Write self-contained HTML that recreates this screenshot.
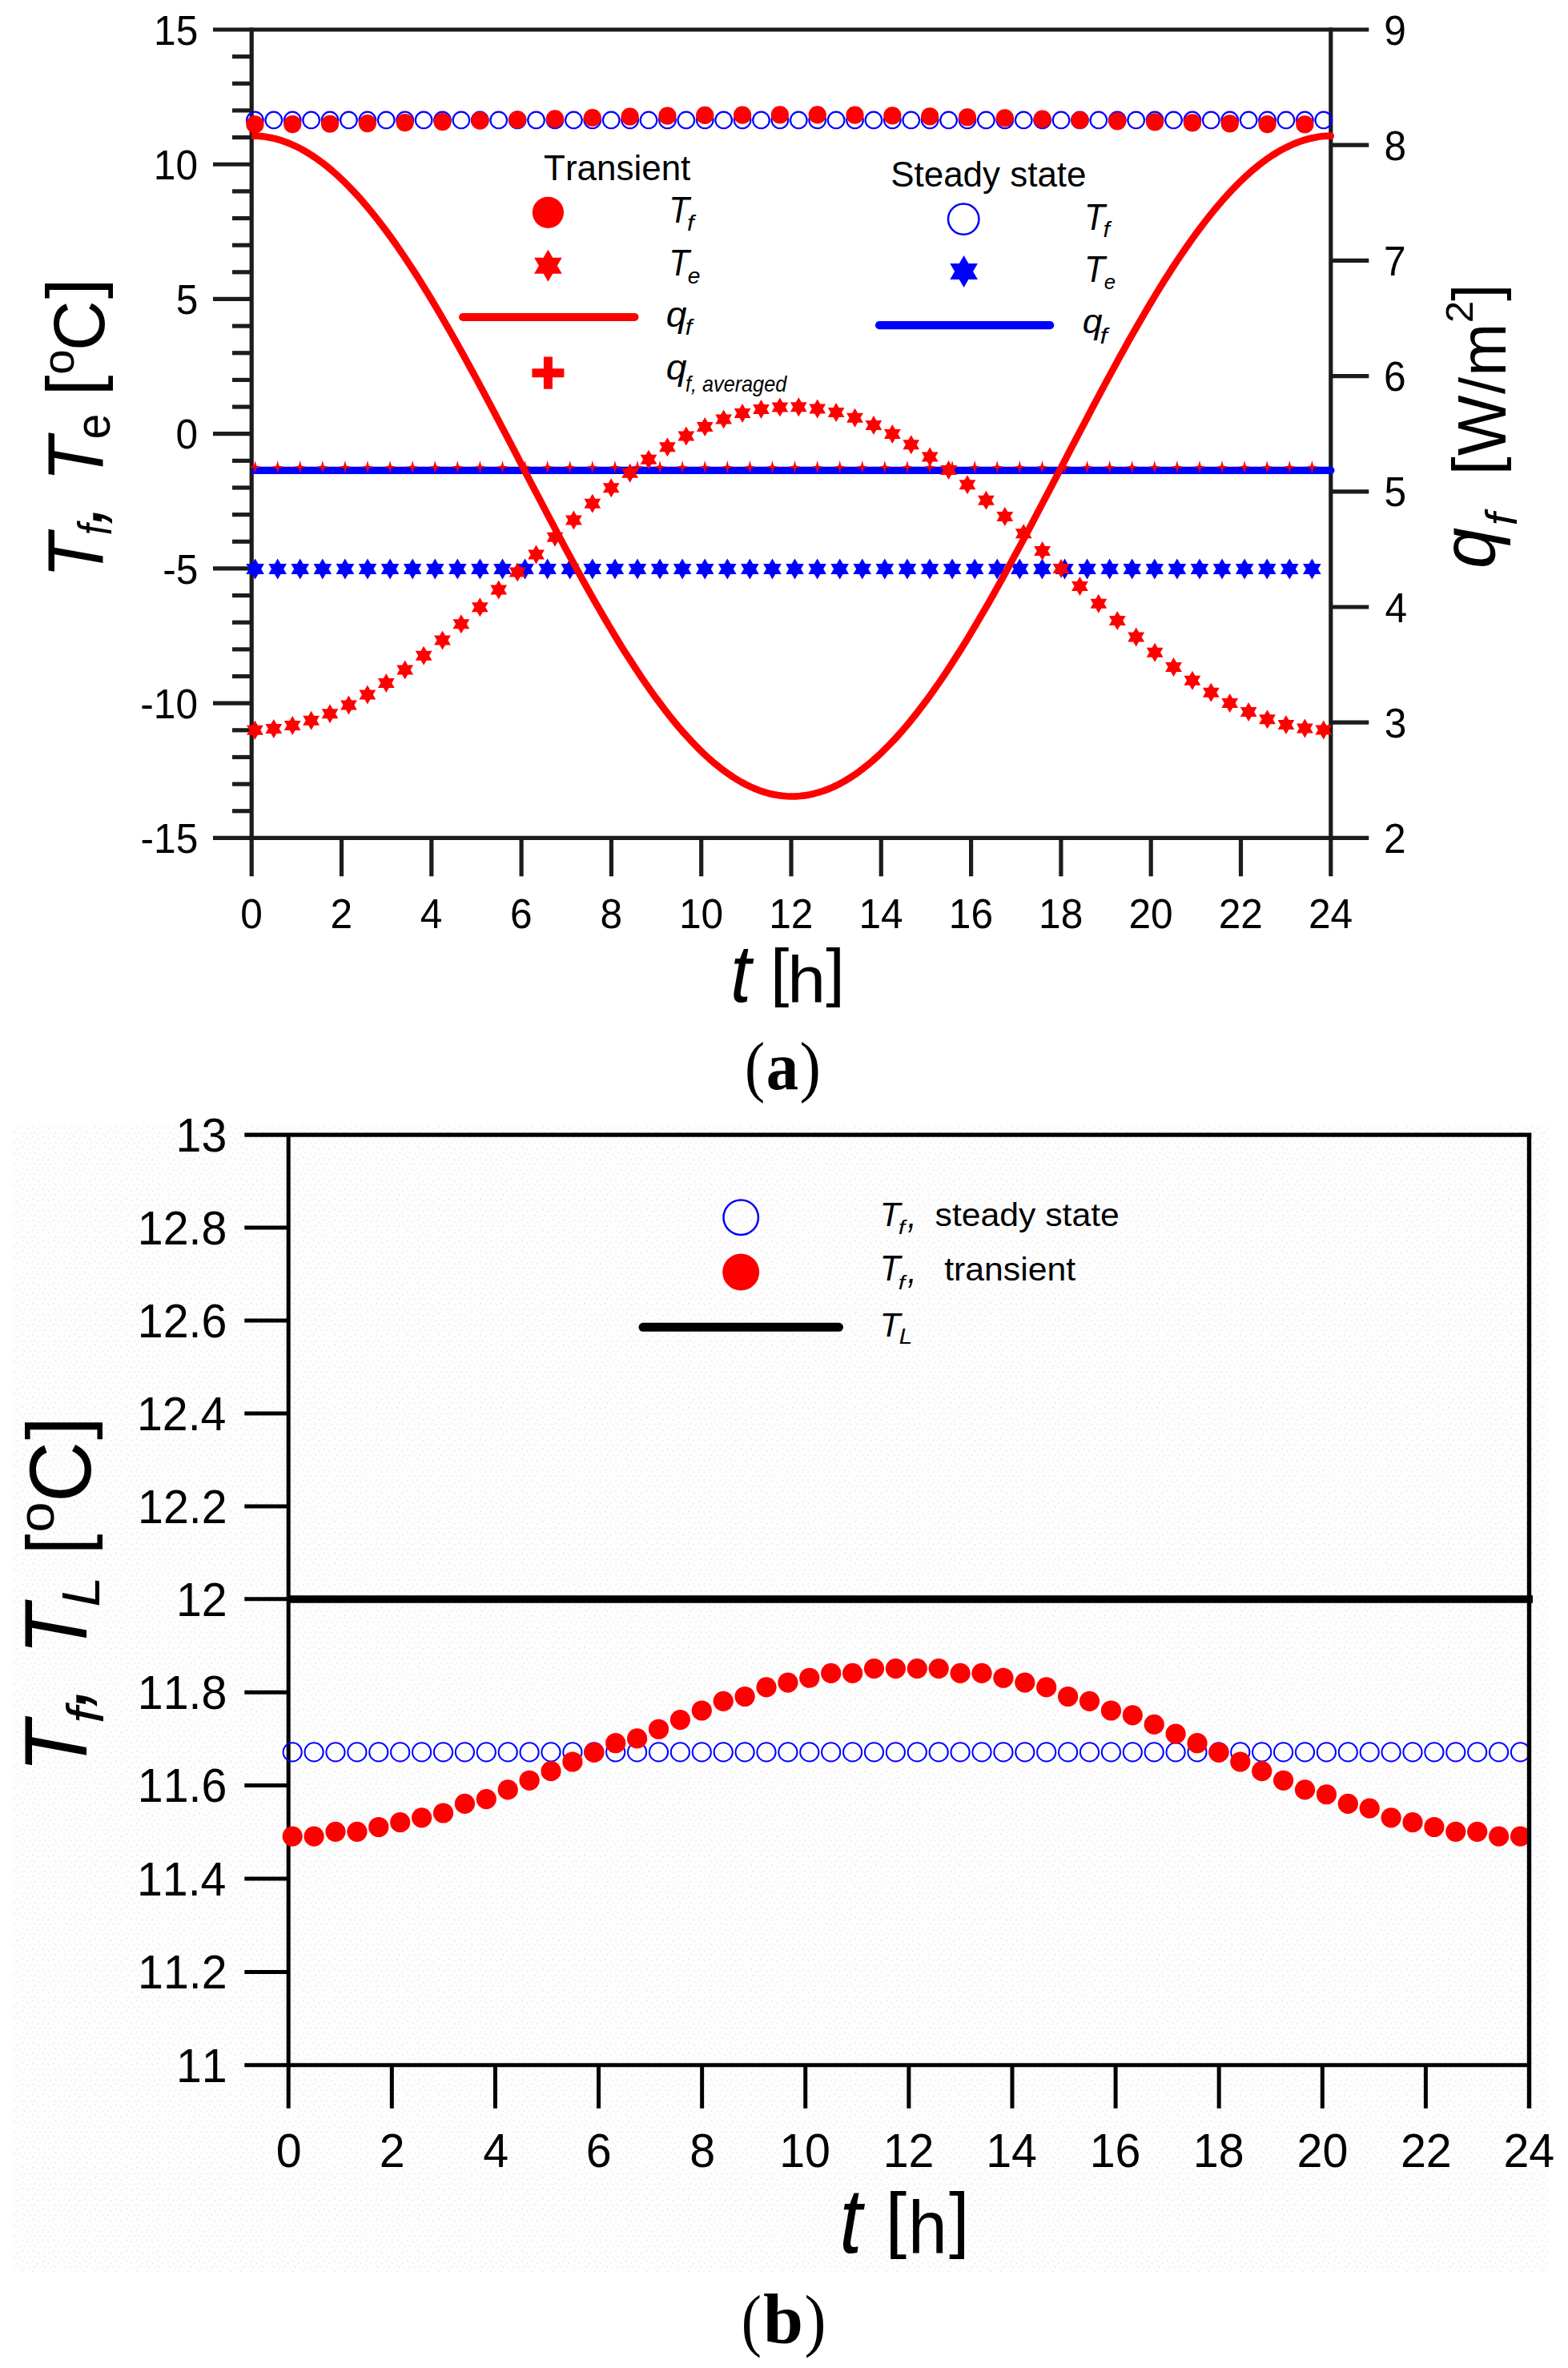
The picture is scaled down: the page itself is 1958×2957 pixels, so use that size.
<!DOCTYPE html>
<html lang="en"><head><meta charset="utf-8"><title>Figure</title>
<style>html,body{margin:0;padding:0;background:#fff}svg{display:block}text{fill:#000;font-kerning:none}</style></head>
<body>
<svg width="1958" height="2957" viewBox="0 0 1958 2957">
<rect width="1958" height="2957" fill="#fff"/>
<g id="chart-a">
<line x1="266.00" y1="37.00" x2="1709.30" y2="37.00" stroke="#1c1c1c" stroke-width="5.2" stroke-linecap="butt"/>
<line x1="266.00" y1="1046.40" x2="1709.30" y2="1046.40" stroke="#1c1c1c" stroke-width="5.2" stroke-linecap="butt"/>
<line x1="314.20" y1="34.40" x2="314.20" y2="1094.30" stroke="#1c1c1c" stroke-width="5.2" stroke-linecap="butt"/>
<line x1="1661.80" y1="34.40" x2="1661.80" y2="1094.30" stroke="#1c1c1c" stroke-width="5.2" stroke-linecap="butt"/>
<line x1="290.00" y1="1012.75" x2="314.20" y2="1012.75" stroke="#1c1c1c" stroke-width="5.2" stroke-linecap="butt"/>
<line x1="290.00" y1="979.11" x2="314.20" y2="979.11" stroke="#1c1c1c" stroke-width="5.2" stroke-linecap="butt"/>
<line x1="290.00" y1="945.46" x2="314.20" y2="945.46" stroke="#1c1c1c" stroke-width="5.2" stroke-linecap="butt"/>
<line x1="290.00" y1="911.81" x2="314.20" y2="911.81" stroke="#1c1c1c" stroke-width="5.2" stroke-linecap="butt"/>
<line x1="266.00" y1="878.17" x2="314.20" y2="878.17" stroke="#1c1c1c" stroke-width="5.2" stroke-linecap="butt"/>
<line x1="290.00" y1="844.52" x2="314.20" y2="844.52" stroke="#1c1c1c" stroke-width="5.2" stroke-linecap="butt"/>
<line x1="290.00" y1="810.87" x2="314.20" y2="810.87" stroke="#1c1c1c" stroke-width="5.2" stroke-linecap="butt"/>
<line x1="290.00" y1="777.23" x2="314.20" y2="777.23" stroke="#1c1c1c" stroke-width="5.2" stroke-linecap="butt"/>
<line x1="290.00" y1="743.58" x2="314.20" y2="743.58" stroke="#1c1c1c" stroke-width="5.2" stroke-linecap="butt"/>
<line x1="266.00" y1="709.93" x2="314.20" y2="709.93" stroke="#1c1c1c" stroke-width="5.2" stroke-linecap="butt"/>
<line x1="290.00" y1="676.29" x2="314.20" y2="676.29" stroke="#1c1c1c" stroke-width="5.2" stroke-linecap="butt"/>
<line x1="290.00" y1="642.64" x2="314.20" y2="642.64" stroke="#1c1c1c" stroke-width="5.2" stroke-linecap="butt"/>
<line x1="290.00" y1="608.99" x2="314.20" y2="608.99" stroke="#1c1c1c" stroke-width="5.2" stroke-linecap="butt"/>
<line x1="290.00" y1="575.35" x2="314.20" y2="575.35" stroke="#1c1c1c" stroke-width="5.2" stroke-linecap="butt"/>
<line x1="266.00" y1="541.70" x2="314.20" y2="541.70" stroke="#1c1c1c" stroke-width="5.2" stroke-linecap="butt"/>
<line x1="290.00" y1="508.05" x2="314.20" y2="508.05" stroke="#1c1c1c" stroke-width="5.2" stroke-linecap="butt"/>
<line x1="290.00" y1="474.41" x2="314.20" y2="474.41" stroke="#1c1c1c" stroke-width="5.2" stroke-linecap="butt"/>
<line x1="290.00" y1="440.76" x2="314.20" y2="440.76" stroke="#1c1c1c" stroke-width="5.2" stroke-linecap="butt"/>
<line x1="290.00" y1="407.11" x2="314.20" y2="407.11" stroke="#1c1c1c" stroke-width="5.2" stroke-linecap="butt"/>
<line x1="266.00" y1="373.47" x2="314.20" y2="373.47" stroke="#1c1c1c" stroke-width="5.2" stroke-linecap="butt"/>
<line x1="290.00" y1="339.82" x2="314.20" y2="339.82" stroke="#1c1c1c" stroke-width="5.2" stroke-linecap="butt"/>
<line x1="290.00" y1="306.17" x2="314.20" y2="306.17" stroke="#1c1c1c" stroke-width="5.2" stroke-linecap="butt"/>
<line x1="290.00" y1="272.53" x2="314.20" y2="272.53" stroke="#1c1c1c" stroke-width="5.2" stroke-linecap="butt"/>
<line x1="290.00" y1="238.88" x2="314.20" y2="238.88" stroke="#1c1c1c" stroke-width="5.2" stroke-linecap="butt"/>
<line x1="266.00" y1="205.23" x2="314.20" y2="205.23" stroke="#1c1c1c" stroke-width="5.2" stroke-linecap="butt"/>
<line x1="290.00" y1="171.59" x2="314.20" y2="171.59" stroke="#1c1c1c" stroke-width="5.2" stroke-linecap="butt"/>
<line x1="290.00" y1="137.94" x2="314.20" y2="137.94" stroke="#1c1c1c" stroke-width="5.2" stroke-linecap="butt"/>
<line x1="290.00" y1="104.29" x2="314.20" y2="104.29" stroke="#1c1c1c" stroke-width="5.2" stroke-linecap="butt"/>
<line x1="290.00" y1="70.65" x2="314.20" y2="70.65" stroke="#1c1c1c" stroke-width="5.2" stroke-linecap="butt"/>
<line x1="1661.80" y1="902.20" x2="1709.30" y2="902.20" stroke="#1c1c1c" stroke-width="5.2" stroke-linecap="butt"/>
<line x1="1661.80" y1="758.00" x2="1709.30" y2="758.00" stroke="#1c1c1c" stroke-width="5.2" stroke-linecap="butt"/>
<line x1="1661.80" y1="613.80" x2="1709.30" y2="613.80" stroke="#1c1c1c" stroke-width="5.2" stroke-linecap="butt"/>
<line x1="1661.80" y1="469.60" x2="1709.30" y2="469.60" stroke="#1c1c1c" stroke-width="5.2" stroke-linecap="butt"/>
<line x1="1661.80" y1="325.40" x2="1709.30" y2="325.40" stroke="#1c1c1c" stroke-width="5.2" stroke-linecap="butt"/>
<line x1="1661.80" y1="181.20" x2="1709.30" y2="181.20" stroke="#1c1c1c" stroke-width="5.2" stroke-linecap="butt"/>
<line x1="426.50" y1="1046.40" x2="426.50" y2="1094.30" stroke="#1c1c1c" stroke-width="5.2" stroke-linecap="butt"/>
<line x1="538.80" y1="1046.40" x2="538.80" y2="1094.30" stroke="#1c1c1c" stroke-width="5.2" stroke-linecap="butt"/>
<line x1="651.10" y1="1046.40" x2="651.10" y2="1094.30" stroke="#1c1c1c" stroke-width="5.2" stroke-linecap="butt"/>
<line x1="763.40" y1="1046.40" x2="763.40" y2="1094.30" stroke="#1c1c1c" stroke-width="5.2" stroke-linecap="butt"/>
<line x1="875.70" y1="1046.40" x2="875.70" y2="1094.30" stroke="#1c1c1c" stroke-width="5.2" stroke-linecap="butt"/>
<line x1="988.00" y1="1046.40" x2="988.00" y2="1094.30" stroke="#1c1c1c" stroke-width="5.2" stroke-linecap="butt"/>
<line x1="1100.30" y1="1046.40" x2="1100.30" y2="1094.30" stroke="#1c1c1c" stroke-width="5.2" stroke-linecap="butt"/>
<line x1="1212.60" y1="1046.40" x2="1212.60" y2="1094.30" stroke="#1c1c1c" stroke-width="5.2" stroke-linecap="butt"/>
<line x1="1324.90" y1="1046.40" x2="1324.90" y2="1094.30" stroke="#1c1c1c" stroke-width="5.2" stroke-linecap="butt"/>
<line x1="1437.20" y1="1046.40" x2="1437.20" y2="1094.30" stroke="#1c1c1c" stroke-width="5.2" stroke-linecap="butt"/>
<line x1="1549.50" y1="1046.40" x2="1549.50" y2="1094.30" stroke="#1c1c1c" stroke-width="5.2" stroke-linecap="butt"/>
<circle cx="318.40" cy="149.94" r="10.3" fill="none" stroke="#0000ff" stroke-width="2.2"/>
<circle cx="341.81" cy="149.94" r="10.3" fill="none" stroke="#0000ff" stroke-width="2.2"/>
<circle cx="365.22" cy="149.94" r="10.3" fill="none" stroke="#0000ff" stroke-width="2.2"/>
<circle cx="388.63" cy="149.94" r="10.3" fill="none" stroke="#0000ff" stroke-width="2.2"/>
<circle cx="412.04" cy="149.94" r="10.3" fill="none" stroke="#0000ff" stroke-width="2.2"/>
<circle cx="435.45" cy="149.94" r="10.3" fill="none" stroke="#0000ff" stroke-width="2.2"/>
<circle cx="458.86" cy="149.94" r="10.3" fill="none" stroke="#0000ff" stroke-width="2.2"/>
<circle cx="482.27" cy="149.94" r="10.3" fill="none" stroke="#0000ff" stroke-width="2.2"/>
<circle cx="505.68" cy="149.94" r="10.3" fill="none" stroke="#0000ff" stroke-width="2.2"/>
<circle cx="529.09" cy="149.94" r="10.3" fill="none" stroke="#0000ff" stroke-width="2.2"/>
<circle cx="552.50" cy="149.94" r="10.3" fill="none" stroke="#0000ff" stroke-width="2.2"/>
<circle cx="575.91" cy="149.94" r="10.3" fill="none" stroke="#0000ff" stroke-width="2.2"/>
<circle cx="599.32" cy="149.94" r="10.3" fill="none" stroke="#0000ff" stroke-width="2.2"/>
<circle cx="622.73" cy="149.94" r="10.3" fill="none" stroke="#0000ff" stroke-width="2.2"/>
<circle cx="646.14" cy="149.94" r="10.3" fill="none" stroke="#0000ff" stroke-width="2.2"/>
<circle cx="669.55" cy="149.94" r="10.3" fill="none" stroke="#0000ff" stroke-width="2.2"/>
<circle cx="692.96" cy="149.94" r="10.3" fill="none" stroke="#0000ff" stroke-width="2.2"/>
<circle cx="716.37" cy="149.94" r="10.3" fill="none" stroke="#0000ff" stroke-width="2.2"/>
<circle cx="739.78" cy="149.94" r="10.3" fill="none" stroke="#0000ff" stroke-width="2.2"/>
<circle cx="763.19" cy="149.94" r="10.3" fill="none" stroke="#0000ff" stroke-width="2.2"/>
<circle cx="786.60" cy="149.94" r="10.3" fill="none" stroke="#0000ff" stroke-width="2.2"/>
<circle cx="810.01" cy="149.94" r="10.3" fill="none" stroke="#0000ff" stroke-width="2.2"/>
<circle cx="833.42" cy="149.94" r="10.3" fill="none" stroke="#0000ff" stroke-width="2.2"/>
<circle cx="856.83" cy="149.94" r="10.3" fill="none" stroke="#0000ff" stroke-width="2.2"/>
<circle cx="880.24" cy="149.94" r="10.3" fill="none" stroke="#0000ff" stroke-width="2.2"/>
<circle cx="903.65" cy="149.94" r="10.3" fill="none" stroke="#0000ff" stroke-width="2.2"/>
<circle cx="927.06" cy="149.94" r="10.3" fill="none" stroke="#0000ff" stroke-width="2.2"/>
<circle cx="950.47" cy="149.94" r="10.3" fill="none" stroke="#0000ff" stroke-width="2.2"/>
<circle cx="973.88" cy="149.94" r="10.3" fill="none" stroke="#0000ff" stroke-width="2.2"/>
<circle cx="997.29" cy="149.94" r="10.3" fill="none" stroke="#0000ff" stroke-width="2.2"/>
<circle cx="1020.70" cy="149.94" r="10.3" fill="none" stroke="#0000ff" stroke-width="2.2"/>
<circle cx="1044.11" cy="149.94" r="10.3" fill="none" stroke="#0000ff" stroke-width="2.2"/>
<circle cx="1067.52" cy="149.94" r="10.3" fill="none" stroke="#0000ff" stroke-width="2.2"/>
<circle cx="1090.93" cy="149.94" r="10.3" fill="none" stroke="#0000ff" stroke-width="2.2"/>
<circle cx="1114.34" cy="149.94" r="10.3" fill="none" stroke="#0000ff" stroke-width="2.2"/>
<circle cx="1137.75" cy="149.94" r="10.3" fill="none" stroke="#0000ff" stroke-width="2.2"/>
<circle cx="1161.16" cy="149.94" r="10.3" fill="none" stroke="#0000ff" stroke-width="2.2"/>
<circle cx="1184.57" cy="149.94" r="10.3" fill="none" stroke="#0000ff" stroke-width="2.2"/>
<circle cx="1207.98" cy="149.94" r="10.3" fill="none" stroke="#0000ff" stroke-width="2.2"/>
<circle cx="1231.39" cy="149.94" r="10.3" fill="none" stroke="#0000ff" stroke-width="2.2"/>
<circle cx="1254.80" cy="149.94" r="10.3" fill="none" stroke="#0000ff" stroke-width="2.2"/>
<circle cx="1278.21" cy="149.94" r="10.3" fill="none" stroke="#0000ff" stroke-width="2.2"/>
<circle cx="1301.62" cy="149.94" r="10.3" fill="none" stroke="#0000ff" stroke-width="2.2"/>
<circle cx="1325.03" cy="149.94" r="10.3" fill="none" stroke="#0000ff" stroke-width="2.2"/>
<circle cx="1348.44" cy="149.94" r="10.3" fill="none" stroke="#0000ff" stroke-width="2.2"/>
<circle cx="1371.85" cy="149.94" r="10.3" fill="none" stroke="#0000ff" stroke-width="2.2"/>
<circle cx="1395.26" cy="149.94" r="10.3" fill="none" stroke="#0000ff" stroke-width="2.2"/>
<circle cx="1418.67" cy="149.94" r="10.3" fill="none" stroke="#0000ff" stroke-width="2.2"/>
<circle cx="1442.08" cy="149.94" r="10.3" fill="none" stroke="#0000ff" stroke-width="2.2"/>
<circle cx="1465.49" cy="149.94" r="10.3" fill="none" stroke="#0000ff" stroke-width="2.2"/>
<circle cx="1488.90" cy="149.94" r="10.3" fill="none" stroke="#0000ff" stroke-width="2.2"/>
<circle cx="1512.31" cy="149.94" r="10.3" fill="none" stroke="#0000ff" stroke-width="2.2"/>
<circle cx="1535.72" cy="149.94" r="10.3" fill="none" stroke="#0000ff" stroke-width="2.2"/>
<circle cx="1559.13" cy="149.94" r="10.3" fill="none" stroke="#0000ff" stroke-width="2.2"/>
<circle cx="1582.54" cy="149.94" r="10.3" fill="none" stroke="#0000ff" stroke-width="2.2"/>
<circle cx="1605.95" cy="149.94" r="10.3" fill="none" stroke="#0000ff" stroke-width="2.2"/>
<circle cx="1629.36" cy="149.94" r="10.3" fill="none" stroke="#0000ff" stroke-width="2.2"/>
<circle cx="1652.77" cy="149.94" r="10.3" fill="none" stroke="#0000ff" stroke-width="2.2"/>
<polygon points="318.6,697.4 322.4,704.0 329.9,704.0 326.2,710.5 329.9,717.0 322.4,717.0 318.6,723.6 314.8,717.0 307.3,717.0 311.0,710.5 307.3,704.0 314.8,704.0" fill="#0000ff"/>
<polygon points="346.7,697.4 350.5,704.0 358.0,704.0 354.2,710.5 358.0,717.0 350.5,717.0 346.7,723.6 342.9,717.0 335.3,717.0 339.1,710.5 335.3,704.0 342.9,704.0" fill="#0000ff"/>
<polygon points="374.8,697.4 378.5,704.0 386.1,704.0 382.3,710.5 386.1,717.0 378.5,717.0 374.8,723.6 371.0,717.0 363.4,717.0 367.2,710.5 363.4,704.0 371.0,704.0" fill="#0000ff"/>
<polygon points="402.8,697.4 406.6,704.0 414.2,704.0 410.4,710.5 414.2,717.0 406.6,717.0 402.8,723.6 399.1,717.0 391.5,717.0 395.3,710.5 391.5,704.0 399.1,704.0" fill="#0000ff"/>
<polygon points="430.9,697.4 434.7,704.0 442.3,704.0 438.5,710.5 442.3,717.0 434.7,717.0 430.9,723.6 427.1,717.0 419.6,717.0 423.4,710.5 419.6,704.0 427.1,704.0" fill="#0000ff"/>
<polygon points="459.0,697.4 462.8,704.0 470.3,704.0 466.6,710.5 470.3,717.0 462.8,717.0 459.0,723.6 455.2,717.0 447.7,717.0 451.4,710.5 447.7,704.0 455.2,704.0" fill="#0000ff"/>
<polygon points="487.1,697.4 490.9,704.0 498.4,704.0 494.6,710.5 498.4,717.0 490.9,717.0 487.1,723.6 483.3,717.0 475.7,717.0 479.5,710.5 475.7,704.0 483.3,704.0" fill="#0000ff"/>
<polygon points="515.2,697.4 518.9,704.0 526.5,704.0 522.7,710.5 526.5,717.0 518.9,717.0 515.2,723.6 511.4,717.0 503.8,717.0 507.6,710.5 503.8,704.0 511.4,704.0" fill="#0000ff"/>
<polygon points="543.2,697.4 547.0,704.0 554.6,704.0 550.8,710.5 554.6,717.0 547.0,717.0 543.2,723.6 539.5,717.0 531.9,717.0 535.7,710.5 531.9,704.0 539.5,704.0" fill="#0000ff"/>
<polygon points="571.3,697.4 575.1,704.0 582.7,704.0 578.9,710.5 582.7,717.0 575.1,717.0 571.3,723.6 567.5,717.0 560.0,717.0 563.8,710.5 560.0,704.0 567.5,704.0" fill="#0000ff"/>
<polygon points="599.4,697.4 603.2,704.0 610.7,704.0 607.0,710.5 610.7,717.0 603.2,717.0 599.4,723.6 595.6,717.0 588.1,717.0 591.8,710.5 588.1,704.0 595.6,704.0" fill="#0000ff"/>
<polygon points="627.5,697.4 631.3,704.0 638.8,704.0 635.0,710.5 638.8,717.0 631.3,717.0 627.5,723.6 623.7,717.0 616.1,717.0 619.9,710.5 616.1,704.0 623.7,704.0" fill="#0000ff"/>
<polygon points="655.6,697.4 659.3,704.0 666.9,704.0 663.1,710.5 666.9,717.0 659.3,717.0 655.6,723.6 651.8,717.0 644.2,717.0 648.0,710.5 644.2,704.0 651.8,704.0" fill="#0000ff"/>
<polygon points="683.6,697.4 687.4,704.0 695.0,704.0 691.2,710.5 695.0,717.0 687.4,717.0 683.6,723.6 679.9,717.0 672.3,717.0 676.1,710.5 672.3,704.0 679.9,704.0" fill="#0000ff"/>
<polygon points="711.7,697.4 715.5,704.0 723.1,704.0 719.3,710.5 723.1,717.0 715.5,717.0 711.7,723.6 707.9,717.0 700.4,717.0 704.2,710.5 700.4,704.0 707.9,704.0" fill="#0000ff"/>
<polygon points="739.8,697.4 743.6,704.0 751.1,704.0 747.4,710.5 751.1,717.0 743.6,717.0 739.8,723.6 736.0,717.0 728.5,717.0 732.2,710.5 728.5,704.0 736.0,704.0" fill="#0000ff"/>
<polygon points="767.9,697.4 771.7,704.0 779.2,704.0 775.4,710.5 779.2,717.0 771.7,717.0 767.9,723.6 764.1,717.0 756.5,717.0 760.3,710.5 756.5,704.0 764.1,704.0" fill="#0000ff"/>
<polygon points="796.0,697.4 799.7,704.0 807.3,704.0 803.5,710.5 807.3,717.0 799.7,717.0 796.0,723.6 792.2,717.0 784.6,717.0 788.4,710.5 784.6,704.0 792.2,704.0" fill="#0000ff"/>
<polygon points="824.0,697.4 827.8,704.0 835.4,704.0 831.6,710.5 835.4,717.0 827.8,717.0 824.0,723.6 820.3,717.0 812.7,717.0 816.5,710.5 812.7,704.0 820.3,704.0" fill="#0000ff"/>
<polygon points="852.1,697.4 855.9,704.0 863.5,704.0 859.7,710.5 863.5,717.0 855.9,717.0 852.1,723.6 848.3,717.0 840.8,717.0 844.6,710.5 840.8,704.0 848.3,704.0" fill="#0000ff"/>
<polygon points="880.2,697.4 884.0,704.0 891.5,704.0 887.8,710.5 891.5,717.0 884.0,717.0 880.2,723.6 876.4,717.0 868.9,717.0 872.6,710.5 868.9,704.0 876.4,704.0" fill="#0000ff"/>
<polygon points="908.3,697.4 912.1,704.0 919.6,704.0 915.8,710.5 919.6,717.0 912.1,717.0 908.3,723.6 904.5,717.0 896.9,717.0 900.7,710.5 896.9,704.0 904.5,704.0" fill="#0000ff"/>
<polygon points="936.4,697.4 940.1,704.0 947.7,704.0 943.9,710.5 947.7,717.0 940.1,717.0 936.4,723.6 932.6,717.0 925.0,717.0 928.8,710.5 925.0,704.0 932.6,704.0" fill="#0000ff"/>
<polygon points="964.4,697.4 968.2,704.0 975.8,704.0 972.0,710.5 975.8,717.0 968.2,717.0 964.4,723.6 960.7,717.0 953.1,717.0 956.9,710.5 953.1,704.0 960.7,704.0" fill="#0000ff"/>
<polygon points="992.5,697.4 996.3,704.0 1003.9,704.0 1000.1,710.5 1003.9,717.0 996.3,717.0 992.5,723.6 988.7,717.0 981.2,717.0 985.0,710.5 981.2,704.0 988.7,704.0" fill="#0000ff"/>
<polygon points="1020.6,697.4 1024.4,704.0 1031.9,704.0 1028.2,710.5 1031.9,717.0 1024.4,717.0 1020.6,723.6 1016.8,717.0 1009.3,717.0 1013.0,710.5 1009.3,704.0 1016.8,704.0" fill="#0000ff"/>
<polygon points="1048.7,697.4 1052.5,704.0 1060.0,704.0 1056.2,710.5 1060.0,717.0 1052.5,717.0 1048.7,723.6 1044.9,717.0 1037.3,717.0 1041.1,710.5 1037.3,704.0 1044.9,704.0" fill="#0000ff"/>
<polygon points="1076.8,697.4 1080.5,704.0 1088.1,704.0 1084.3,710.5 1088.1,717.0 1080.5,717.0 1076.8,723.6 1073.0,717.0 1065.4,717.0 1069.2,710.5 1065.4,704.0 1073.0,704.0" fill="#0000ff"/>
<polygon points="1104.8,697.4 1108.6,704.0 1116.2,704.0 1112.4,710.5 1116.2,717.0 1108.6,717.0 1104.8,723.6 1101.1,717.0 1093.5,717.0 1097.3,710.5 1093.5,704.0 1101.1,704.0" fill="#0000ff"/>
<polygon points="1132.9,697.4 1136.7,704.0 1144.3,704.0 1140.5,710.5 1144.3,717.0 1136.7,717.0 1132.9,723.6 1129.1,717.0 1121.6,717.0 1125.4,710.5 1121.6,704.0 1129.1,704.0" fill="#0000ff"/>
<polygon points="1161.0,697.4 1164.8,704.0 1172.3,704.0 1168.6,710.5 1172.3,717.0 1164.8,717.0 1161.0,723.6 1157.2,717.0 1149.7,717.0 1153.4,710.5 1149.7,704.0 1157.2,704.0" fill="#0000ff"/>
<polygon points="1189.1,697.4 1192.9,704.0 1200.4,704.0 1196.6,710.5 1200.4,717.0 1192.9,717.0 1189.1,723.6 1185.3,717.0 1177.7,717.0 1181.5,710.5 1177.7,704.0 1185.3,704.0" fill="#0000ff"/>
<polygon points="1217.2,697.4 1220.9,704.0 1228.5,704.0 1224.7,710.5 1228.5,717.0 1220.9,717.0 1217.2,723.6 1213.4,717.0 1205.8,717.0 1209.6,710.5 1205.8,704.0 1213.4,704.0" fill="#0000ff"/>
<polygon points="1245.2,697.4 1249.0,704.0 1256.6,704.0 1252.8,710.5 1256.6,717.0 1249.0,717.0 1245.2,723.6 1241.5,717.0 1233.9,717.0 1237.7,710.5 1233.9,704.0 1241.5,704.0" fill="#0000ff"/>
<polygon points="1273.3,697.4 1277.1,704.0 1284.7,704.0 1280.9,710.5 1284.7,717.0 1277.1,717.0 1273.3,723.6 1269.5,717.0 1262.0,717.0 1265.8,710.5 1262.0,704.0 1269.5,704.0" fill="#0000ff"/>
<polygon points="1301.4,697.4 1305.2,704.0 1312.7,704.0 1309.0,710.5 1312.7,717.0 1305.2,717.0 1301.4,723.6 1297.6,717.0 1290.1,717.0 1293.8,710.5 1290.1,704.0 1297.6,704.0" fill="#0000ff"/>
<polygon points="1329.5,697.4 1333.3,704.0 1340.8,704.0 1337.0,710.5 1340.8,717.0 1333.3,717.0 1329.5,723.6 1325.7,717.0 1318.1,717.0 1321.9,710.5 1318.1,704.0 1325.7,704.0" fill="#0000ff"/>
<polygon points="1357.6,697.4 1361.3,704.0 1368.9,704.0 1365.1,710.5 1368.9,717.0 1361.3,717.0 1357.6,723.6 1353.8,717.0 1346.2,717.0 1350.0,710.5 1346.2,704.0 1353.8,704.0" fill="#0000ff"/>
<polygon points="1385.6,697.4 1389.4,704.0 1397.0,704.0 1393.2,710.5 1397.0,717.0 1389.4,717.0 1385.6,723.6 1381.9,717.0 1374.3,717.0 1378.1,710.5 1374.3,704.0 1381.9,704.0" fill="#0000ff"/>
<polygon points="1413.7,697.4 1417.5,704.0 1425.1,704.0 1421.3,710.5 1425.1,717.0 1417.5,717.0 1413.7,723.6 1409.9,717.0 1402.4,717.0 1406.2,710.5 1402.4,704.0 1409.9,704.0" fill="#0000ff"/>
<polygon points="1441.8,697.4 1445.6,704.0 1453.1,704.0 1449.4,710.5 1453.1,717.0 1445.6,717.0 1441.8,723.6 1438.0,717.0 1430.5,717.0 1434.2,710.5 1430.5,704.0 1438.0,704.0" fill="#0000ff"/>
<polygon points="1469.9,697.4 1473.7,704.0 1481.2,704.0 1477.4,710.5 1481.2,717.0 1473.7,717.0 1469.9,723.6 1466.1,717.0 1458.5,717.0 1462.3,710.5 1458.5,704.0 1466.1,704.0" fill="#0000ff"/>
<polygon points="1498.0,697.4 1501.7,704.0 1509.3,704.0 1505.5,710.5 1509.3,717.0 1501.7,717.0 1498.0,723.6 1494.2,717.0 1486.6,717.0 1490.4,710.5 1486.6,704.0 1494.2,704.0" fill="#0000ff"/>
<polygon points="1526.0,697.4 1529.8,704.0 1537.4,704.0 1533.6,710.5 1537.4,717.0 1529.8,717.0 1526.0,723.6 1522.3,717.0 1514.7,717.0 1518.5,710.5 1514.7,704.0 1522.3,704.0" fill="#0000ff"/>
<polygon points="1554.1,697.4 1557.9,704.0 1565.5,704.0 1561.7,710.5 1565.5,717.0 1557.9,717.0 1554.1,723.6 1550.3,717.0 1542.8,717.0 1546.6,710.5 1542.8,704.0 1550.3,704.0" fill="#0000ff"/>
<polygon points="1582.2,697.4 1586.0,704.0 1593.5,704.0 1589.8,710.5 1593.5,717.0 1586.0,717.0 1582.2,723.6 1578.4,717.0 1570.9,717.0 1574.6,710.5 1570.9,704.0 1578.4,704.0" fill="#0000ff"/>
<polygon points="1610.3,697.4 1614.1,704.0 1621.6,704.0 1617.8,710.5 1621.6,717.0 1614.1,717.0 1610.3,723.6 1606.5,717.0 1598.9,717.0 1602.7,710.5 1598.9,704.0 1606.5,704.0" fill="#0000ff"/>
<polygon points="1638.4,697.4 1642.1,704.0 1649.7,704.0 1645.9,710.5 1649.7,717.0 1642.1,717.0 1638.4,723.6 1634.6,717.0 1627.0,717.0 1630.8,710.5 1627.0,704.0 1634.6,704.0" fill="#0000ff"/>
<line x1="314.50" y1="587.40" x2="1661.80" y2="587.40" stroke="#0000ff" stroke-width="9.4" stroke-linecap="butt"/>
<circle cx="1661.80" cy="587.40" r="4.7" fill="#0000ff"/>
<polyline points="314.2,169.7 319.8,169.8 325.4,170.1 331.0,170.8 336.7,171.7 342.3,172.9 347.9,174.4 353.5,176.2 359.1,178.2 364.7,180.6 370.3,183.2 376.0,186.0 381.6,189.2 387.2,192.6 392.8,196.3 398.4,200.2 404.0,204.4 409.7,208.9 415.3,213.6 420.9,218.6 426.5,223.8 432.1,229.3 437.7,235.0 443.3,241.0 449.0,247.2 454.6,253.6 460.2,260.2 465.8,267.1 471.4,274.2 477.0,281.4 482.6,288.9 488.3,296.6 493.9,304.5 499.5,312.6 505.1,320.9 510.7,329.3 516.3,337.9 522.0,346.7 527.6,355.7 533.2,364.8 538.8,374.0 544.4,383.4 550.0,392.9 555.6,402.6 561.3,412.4 566.9,422.3 572.5,432.3 578.1,442.4 583.7,452.6 589.3,462.9 595.0,473.3 600.6,483.7 606.2,494.2 611.8,504.8 617.4,515.4 623.0,526.1 628.6,536.8 634.3,547.6 639.9,558.3 645.5,569.1 651.1,579.9 656.7,590.7 662.3,601.5 667.9,612.3 673.6,623.0 679.2,633.8 684.8,644.5 690.4,655.1 696.0,665.7 701.6,676.3 707.2,686.7 712.9,697.1 718.5,707.5 724.1,717.7 729.7,727.9 735.3,737.9 740.9,747.8 746.6,757.7 752.2,767.4 757.8,777.0 763.4,786.4 769.0,795.7 774.6,804.9 780.2,813.9 785.9,822.7 791.5,831.4 797.1,839.9 802.7,848.3 808.3,856.4 813.9,864.4 819.5,872.2 825.2,879.7 830.8,887.1 836.4,894.3 842.0,901.2 847.6,907.9 853.2,914.5 858.9,920.7 864.5,926.8 870.1,932.6 875.7,938.2 881.3,943.5 886.9,948.6 892.5,953.4 898.2,957.9 903.8,962.3 909.4,966.3 915.0,970.1 920.6,973.6 926.2,976.9 931.8,979.9 937.5,982.6 943.1,985.0 948.7,987.2 954.3,989.1 959.9,990.7 965.5,992.0 971.2,993.0 976.8,993.8 982.4,994.3 988.0,994.5 993.6,994.4 999.2,994.0 1004.8,993.4 1010.5,992.4 1016.1,991.2 1021.7,989.7 1027.3,988.0 1032.9,985.9 1038.5,983.6 1044.1,981.0 1049.8,978.1 1055.4,975.0 1061.0,971.5 1066.6,967.9 1072.2,963.9 1077.8,959.7 1083.5,955.2 1089.1,950.5 1094.7,945.5 1100.3,940.3 1105.9,934.8 1111.5,929.1 1117.1,923.2 1122.8,917.0 1128.4,910.6 1134.0,903.9 1139.6,897.1 1145.2,890.0 1150.8,882.7 1156.5,875.2 1162.1,867.5 1167.7,859.6 1173.3,851.6 1178.9,843.3 1184.5,834.8 1190.1,826.2 1195.8,817.4 1201.4,808.5 1207.0,799.4 1212.6,790.1 1218.2,780.8 1223.8,771.2 1229.4,761.6 1235.1,751.8 1240.7,741.9 1246.3,731.9 1251.9,721.8 1257.5,711.6 1263.1,701.3 1268.7,690.9 1274.4,680.5 1280.0,669.9 1285.6,659.4 1291.2,648.7 1296.8,638.0 1302.4,627.3 1308.1,616.6 1313.7,605.8 1319.3,595.0 1324.9,584.2 1330.5,573.4 1336.1,562.6 1341.7,551.9 1347.4,541.1 1353.0,530.4 1358.6,519.7 1364.2,509.0 1369.8,498.4 1375.4,487.9 1381.0,477.4 1386.7,467.0 1392.3,456.7 1397.9,446.4 1403.5,436.3 1409.1,426.2 1414.7,416.3 1420.4,406.5 1426.0,396.8 1431.6,387.2 1437.2,377.7 1442.8,368.4 1448.4,359.3 1454.0,350.3 1459.7,341.4 1465.3,332.7 1470.9,324.2 1476.5,315.9 1482.1,307.7 1487.7,299.8 1493.3,292.0 1499.0,284.4 1504.6,277.0 1510.2,269.9 1515.8,262.9 1521.4,256.2 1527.0,249.7 1532.7,243.4 1538.3,237.4 1543.9,231.6 1549.5,226.0 1555.1,220.7 1560.7,215.6 1566.3,210.8 1572.0,206.2 1577.6,201.9 1583.2,197.8 1588.8,194.0 1594.4,190.5 1600.0,187.3 1605.7,184.3 1611.3,181.6 1616.9,179.1 1622.5,177.0 1628.1,175.1 1633.7,173.5 1639.3,172.2 1645.0,171.1 1650.6,170.3 1656.2,169.9 1661.8,169.7" fill="none" stroke="#ff0000" stroke-width="8.6" stroke-linejoin="round"/>
<circle cx="1661.80" cy="169.67" r="4.3" fill="#ff0000"/>
<polygon points="318.4,899.8 321.9,905.8 328.8,905.8 325.3,911.8 328.8,917.8 321.9,917.8 318.4,923.8 314.9,917.8 308.0,917.8 311.5,911.8 308.0,905.8 314.9,905.8" fill="#ff0000"/>
<polygon points="341.8,898.1 345.3,904.1 352.2,904.1 348.7,910.1 352.2,916.1 345.3,916.1 341.8,922.1 338.3,916.1 331.4,916.1 334.9,910.1 331.4,904.1 338.3,904.1" fill="#ff0000"/>
<polygon points="365.2,894.1 368.7,900.1 375.6,900.1 372.1,906.1 375.6,912.1 368.7,912.1 365.2,918.1 361.8,912.1 354.8,912.1 358.3,906.1 354.8,900.1 361.8,900.1" fill="#ff0000"/>
<polygon points="388.6,887.8 392.1,893.8 399.0,893.8 395.6,899.8 399.0,905.8 392.1,905.8 388.6,911.8 385.2,905.8 378.2,905.8 381.7,899.8 378.2,893.8 385.2,893.8" fill="#ff0000"/>
<polygon points="412.0,879.2 415.5,885.2 422.4,885.2 419.0,891.2 422.4,897.2 415.5,897.2 412.0,903.2 408.6,897.2 401.6,897.2 405.1,891.2 401.6,885.2 408.6,885.2" fill="#ff0000"/>
<polygon points="435.4,868.4 438.9,874.4 445.8,874.4 442.4,880.4 445.8,886.4 438.9,886.4 435.4,892.4 432.0,886.4 425.1,886.4 428.5,880.4 425.1,874.4 432.0,874.4" fill="#ff0000"/>
<polygon points="458.9,855.6 462.3,861.6 469.3,861.6 465.8,867.6 469.3,873.6 462.3,873.6 458.9,879.6 455.4,873.6 448.5,873.6 451.9,867.6 448.5,861.6 455.4,861.6" fill="#ff0000"/>
<polygon points="482.3,840.9 485.7,846.9 492.7,846.9 489.2,852.9 492.7,858.9 485.7,858.9 482.3,864.9 478.8,858.9 471.9,858.9 475.3,852.9 471.9,846.9 478.8,846.9" fill="#ff0000"/>
<polygon points="505.7,824.6 509.1,830.6 516.1,830.6 512.6,836.6 516.1,842.6 509.1,842.6 505.7,848.6 502.2,842.6 495.3,842.6 498.8,836.6 495.3,830.6 502.2,830.6" fill="#ff0000"/>
<polygon points="529.1,806.7 532.6,812.7 539.5,812.7 536.0,818.7 539.5,824.7 532.6,824.7 529.1,830.7 525.6,824.7 518.7,824.7 522.2,818.7 518.7,812.7 525.6,812.7" fill="#ff0000"/>
<polygon points="552.5,787.5 556.0,793.5 562.9,793.5 559.4,799.5 562.9,805.5 556.0,805.5 552.5,811.5 549.0,805.5 542.1,805.5 545.6,799.5 542.1,793.5 549.0,793.5" fill="#ff0000"/>
<polygon points="575.9,767.3 579.4,773.3 586.3,773.3 582.8,779.3 586.3,785.3 579.4,785.3 575.9,791.3 572.4,785.3 565.5,785.3 569.0,779.3 565.5,773.3 572.4,773.3" fill="#ff0000"/>
<polygon points="599.3,746.2 602.8,752.2 609.7,752.2 606.2,758.2 609.7,764.2 602.8,764.2 599.3,770.2 595.9,764.2 588.9,764.2 592.4,758.2 588.9,752.2 595.9,752.2" fill="#ff0000"/>
<polygon points="622.7,724.6 626.2,730.6 633.1,730.6 629.7,736.6 633.1,742.6 626.2,742.6 622.7,748.6 619.3,742.6 612.3,742.6 615.8,736.6 612.3,730.6 619.3,730.6" fill="#ff0000"/>
<polygon points="646.1,702.6 649.6,708.6 656.5,708.6 653.1,714.6 656.5,720.6 649.6,720.6 646.1,726.6 642.7,720.6 635.7,720.6 639.2,714.6 635.7,708.6 642.7,708.6" fill="#ff0000"/>
<polygon points="669.5,680.6 673.0,686.6 679.9,686.6 676.5,692.6 679.9,698.6 673.0,698.6 669.5,704.6 666.1,698.6 659.2,698.6 662.6,692.6 659.2,686.6 666.1,686.6" fill="#ff0000"/>
<polygon points="693.0,658.8 696.4,664.8 703.4,664.8 699.9,670.8 703.4,676.8 696.4,676.8 693.0,682.8 689.5,676.8 682.6,676.8 686.0,670.8 682.6,664.8 689.5,664.8" fill="#ff0000"/>
<polygon points="716.4,637.4 719.8,643.4 726.8,643.4 723.3,649.4 726.8,655.4 719.8,655.4 716.4,661.4 712.9,655.4 706.0,655.4 709.4,649.4 706.0,643.4 712.9,643.4" fill="#ff0000"/>
<polygon points="739.8,616.8 743.2,622.8 750.2,622.8 746.7,628.8 750.2,634.8 743.2,634.8 739.8,640.8 736.3,634.8 729.4,634.8 732.9,628.8 729.4,622.8 736.3,622.8" fill="#ff0000"/>
<polygon points="763.2,597.2 766.7,603.2 773.6,603.2 770.1,609.2 773.6,615.2 766.7,615.2 763.2,621.2 759.7,615.2 752.8,615.2 756.3,609.2 752.8,603.2 759.7,603.2" fill="#ff0000"/>
<polygon points="786.6,578.7 790.1,584.7 797.0,584.7 793.5,590.7 797.0,596.7 790.1,596.7 786.6,602.7 783.1,596.7 776.2,596.7 779.7,590.7 776.2,584.7 783.1,584.7" fill="#ff0000"/>
<polygon points="810.0,561.7 813.5,567.7 820.4,567.7 816.9,573.7 820.4,579.7 813.5,579.7 810.0,585.7 806.5,579.7 799.6,579.7 803.1,573.7 799.6,567.7 806.5,567.7" fill="#ff0000"/>
<polygon points="833.4,546.3 836.9,552.3 843.8,552.3 840.3,558.3 843.8,564.3 836.9,564.3 833.4,570.3 830.0,564.3 823.0,564.3 826.5,558.3 823.0,552.3 830.0,552.3" fill="#ff0000"/>
<polygon points="856.8,532.6 860.3,538.6 867.2,538.6 863.8,544.6 867.2,550.6 860.3,550.6 856.8,556.6 853.4,550.6 846.4,550.6 849.9,544.6 846.4,538.6 853.4,538.6" fill="#ff0000"/>
<polygon points="880.2,521.0 883.7,527.0 890.6,527.0 887.2,533.0 890.6,539.0 883.7,539.0 880.2,545.0 876.8,539.0 869.8,539.0 873.3,533.0 869.8,527.0 876.8,527.0" fill="#ff0000"/>
<polygon points="903.6,511.5 907.1,517.5 914.0,517.5 910.6,523.5 914.0,529.5 907.1,529.5 903.6,535.5 900.2,529.5 893.3,529.5 896.7,523.5 893.3,517.5 900.2,517.5" fill="#ff0000"/>
<polygon points="927.1,504.1 930.5,510.1 937.5,510.1 934.0,516.1 937.5,522.1 930.5,522.1 927.1,528.1 923.6,522.1 916.7,522.1 920.1,516.1 916.7,510.1 923.6,510.1" fill="#ff0000"/>
<polygon points="950.5,499.1 953.9,505.1 960.9,505.1 957.4,511.1 960.9,517.1 953.9,517.1 950.5,523.1 947.0,517.1 940.1,517.1 943.5,511.1 940.1,505.1 947.0,505.1" fill="#ff0000"/>
<polygon points="973.9,496.5 977.3,502.5 984.3,502.5 980.8,508.5 984.3,514.5 977.3,514.5 973.9,520.5 970.4,514.5 963.5,514.5 967.0,508.5 963.5,502.5 970.4,502.5" fill="#ff0000"/>
<polygon points="997.3,496.2 1000.8,502.2 1007.7,502.2 1004.2,508.2 1007.7,514.2 1000.8,514.2 997.3,520.2 993.8,514.2 986.9,514.2 990.4,508.2 986.9,502.2 993.8,502.2" fill="#ff0000"/>
<polygon points="1020.7,498.4 1024.2,504.4 1031.1,504.4 1027.6,510.4 1031.1,516.4 1024.2,516.4 1020.7,522.4 1017.2,516.4 1010.3,516.4 1013.8,510.4 1010.3,504.4 1017.2,504.4" fill="#ff0000"/>
<polygon points="1044.1,502.9 1047.6,508.9 1054.5,508.9 1051.0,514.9 1054.5,520.9 1047.6,520.9 1044.1,526.9 1040.6,520.9 1033.7,520.9 1037.2,514.9 1033.7,508.9 1040.6,508.9" fill="#ff0000"/>
<polygon points="1067.5,509.8 1071.0,515.8 1077.9,515.8 1074.4,521.8 1077.9,527.8 1071.0,527.8 1067.5,533.8 1064.1,527.8 1057.1,527.8 1060.6,521.8 1057.1,515.8 1064.1,515.8" fill="#ff0000"/>
<polygon points="1090.9,518.9 1094.4,524.9 1101.3,524.9 1097.9,530.9 1101.3,536.9 1094.4,536.9 1090.9,542.9 1087.5,536.9 1080.5,536.9 1084.0,530.9 1080.5,524.9 1087.5,524.9" fill="#ff0000"/>
<polygon points="1114.3,530.1 1117.8,536.1 1124.7,536.1 1121.3,542.1 1124.7,548.1 1117.8,548.1 1114.3,554.1 1110.9,548.1 1103.9,548.1 1107.4,542.1 1103.9,536.1 1110.9,536.1" fill="#ff0000"/>
<polygon points="1137.8,543.3 1141.2,549.3 1148.1,549.3 1144.7,555.3 1148.1,561.3 1141.2,561.3 1137.8,567.3 1134.3,561.3 1127.4,561.3 1130.8,555.3 1127.4,549.3 1134.3,549.3" fill="#ff0000"/>
<polygon points="1161.2,558.4 1164.6,564.4 1171.6,564.4 1168.1,570.4 1171.6,576.4 1164.6,576.4 1161.2,582.4 1157.7,576.4 1150.8,576.4 1154.2,570.4 1150.8,564.4 1157.7,564.4" fill="#ff0000"/>
<polygon points="1184.6,575.1 1188.0,581.1 1195.0,581.1 1191.5,587.1 1195.0,593.1 1188.0,593.1 1184.6,599.1 1181.1,593.1 1174.2,593.1 1177.6,587.1 1174.2,581.1 1181.1,581.1" fill="#ff0000"/>
<polygon points="1208.0,593.3 1211.4,599.3 1218.4,599.3 1214.9,605.3 1218.4,611.3 1211.4,611.3 1208.0,617.3 1204.5,611.3 1197.6,611.3 1201.1,605.3 1197.6,599.3 1204.5,599.3" fill="#ff0000"/>
<polygon points="1231.4,612.7 1234.9,618.7 1241.8,618.7 1238.3,624.7 1241.8,630.7 1234.9,630.7 1231.4,636.7 1227.9,630.7 1221.0,630.7 1224.5,624.7 1221.0,618.7 1227.9,618.7" fill="#ff0000"/>
<polygon points="1254.8,633.1 1258.3,639.1 1265.2,639.1 1261.7,645.1 1265.2,651.1 1258.3,651.1 1254.8,657.1 1251.3,651.1 1244.4,651.1 1247.9,645.1 1244.4,639.1 1251.3,639.1" fill="#ff0000"/>
<polygon points="1278.2,654.3 1281.7,660.3 1288.6,660.3 1285.1,666.3 1288.6,672.3 1281.7,672.3 1278.2,678.3 1274.7,672.3 1267.8,672.3 1271.3,666.3 1267.8,660.3 1274.7,660.3" fill="#ff0000"/>
<polygon points="1301.6,676.1 1305.1,682.1 1312.0,682.1 1308.5,688.1 1312.0,694.1 1305.1,694.1 1301.6,700.1 1298.2,694.1 1291.2,694.1 1294.7,688.1 1291.2,682.1 1298.2,682.1" fill="#ff0000"/>
<polygon points="1325.0,698.1 1328.5,704.1 1335.4,704.1 1332.0,710.1 1335.4,716.1 1328.5,716.1 1325.0,722.1 1321.6,716.1 1314.6,716.1 1318.1,710.1 1314.6,704.1 1321.6,704.1" fill="#ff0000"/>
<polygon points="1348.4,720.0 1351.9,726.0 1358.8,726.0 1355.4,732.0 1358.8,738.0 1351.9,738.0 1348.4,744.0 1345.0,738.0 1338.0,738.0 1341.5,732.0 1338.0,726.0 1345.0,726.0" fill="#ff0000"/>
<polygon points="1371.8,741.8 1375.3,747.8 1382.2,747.8 1378.8,753.8 1382.2,759.8 1375.3,759.8 1371.8,765.8 1368.4,759.8 1361.5,759.8 1364.9,753.8 1361.5,747.8 1368.4,747.8" fill="#ff0000"/>
<polygon points="1395.3,763.0 1398.7,769.0 1405.7,769.0 1402.2,775.0 1405.7,781.0 1398.7,781.0 1395.3,787.0 1391.8,781.0 1384.9,781.0 1388.3,775.0 1384.9,769.0 1391.8,769.0" fill="#ff0000"/>
<polygon points="1418.7,783.4 1422.1,789.4 1429.1,789.4 1425.6,795.4 1429.1,801.4 1422.1,801.4 1418.7,807.4 1415.2,801.4 1408.3,801.4 1411.7,795.4 1408.3,789.4 1415.2,789.4" fill="#ff0000"/>
<polygon points="1442.1,802.8 1445.5,808.8 1452.5,808.8 1449.0,814.8 1452.5,820.8 1445.5,820.8 1442.1,826.8 1438.6,820.8 1431.7,820.8 1435.2,814.8 1431.7,808.8 1438.6,808.8" fill="#ff0000"/>
<polygon points="1465.5,821.0 1469.0,827.0 1475.9,827.0 1472.4,833.0 1475.9,839.0 1469.0,839.0 1465.5,845.0 1462.0,839.0 1455.1,839.0 1458.6,833.0 1455.1,827.0 1462.0,827.0" fill="#ff0000"/>
<polygon points="1488.9,837.7 1492.4,843.7 1499.3,843.7 1495.8,849.7 1499.3,855.7 1492.4,855.7 1488.9,861.7 1485.4,855.7 1478.5,855.7 1482.0,849.7 1478.5,843.7 1485.4,843.7" fill="#ff0000"/>
<polygon points="1512.3,852.7 1515.8,858.7 1522.7,858.7 1519.2,864.7 1522.7,870.7 1515.8,870.7 1512.3,876.7 1508.8,870.7 1501.9,870.7 1505.4,864.7 1501.9,858.7 1508.8,858.7" fill="#ff0000"/>
<polygon points="1535.7,865.9 1539.2,871.9 1546.1,871.9 1542.6,877.9 1546.1,883.9 1539.2,883.9 1535.7,889.9 1532.3,883.9 1525.3,883.9 1528.8,877.9 1525.3,871.9 1532.3,871.9" fill="#ff0000"/>
<polygon points="1559.1,877.1 1562.6,883.1 1569.5,883.1 1566.1,889.1 1569.5,895.1 1562.6,895.1 1559.1,901.1 1555.7,895.1 1548.7,895.1 1552.2,889.1 1548.7,883.1 1555.7,883.1" fill="#ff0000"/>
<polygon points="1582.5,886.2 1586.0,892.2 1592.9,892.2 1589.5,898.2 1592.9,904.2 1586.0,904.2 1582.5,910.2 1579.1,904.2 1572.1,904.2 1575.6,898.2 1572.1,892.2 1579.1,892.2" fill="#ff0000"/>
<polygon points="1605.9,893.0 1609.4,899.0 1616.3,899.0 1612.9,905.0 1616.3,911.0 1609.4,911.0 1605.9,917.0 1602.5,911.0 1595.6,911.0 1599.0,905.0 1595.6,899.0 1602.5,899.0" fill="#ff0000"/>
<polygon points="1629.4,897.5 1632.8,903.5 1639.8,903.5 1636.3,909.5 1639.8,915.5 1632.8,915.5 1629.4,921.5 1625.9,915.5 1619.0,915.5 1622.4,909.5 1619.0,903.5 1625.9,903.5" fill="#ff0000"/>
<polygon points="1652.8,899.6 1656.2,905.6 1663.2,905.6 1659.7,911.6 1663.2,917.6 1656.2,917.6 1652.8,923.6 1649.3,917.6 1642.4,917.6 1645.8,911.6 1642.4,905.6 1649.3,905.6" fill="#ff0000"/>
<circle cx="318.40" cy="155.40" r="11.1" fill="#ff0000"/>
<circle cx="365.22" cy="155.06" r="11.1" fill="#ff0000"/>
<circle cx="412.04" cy="154.73" r="11.1" fill="#ff0000"/>
<circle cx="458.86" cy="154.05" r="11.1" fill="#ff0000"/>
<circle cx="505.68" cy="153.04" r="11.1" fill="#ff0000"/>
<circle cx="552.50" cy="152.04" r="11.1" fill="#ff0000"/>
<circle cx="599.32" cy="150.69" r="11.1" fill="#ff0000"/>
<circle cx="646.14" cy="149.34" r="11.1" fill="#ff0000"/>
<circle cx="692.96" cy="148.33" r="11.1" fill="#ff0000"/>
<circle cx="739.78" cy="146.99" r="11.1" fill="#ff0000"/>
<circle cx="786.60" cy="145.64" r="11.1" fill="#ff0000"/>
<circle cx="833.42" cy="144.63" r="11.1" fill="#ff0000"/>
<circle cx="880.24" cy="143.96" r="11.1" fill="#ff0000"/>
<circle cx="927.06" cy="143.62" r="11.1" fill="#ff0000"/>
<circle cx="973.88" cy="143.29" r="11.1" fill="#ff0000"/>
<circle cx="1020.70" cy="143.29" r="11.1" fill="#ff0000"/>
<circle cx="1067.52" cy="143.62" r="11.1" fill="#ff0000"/>
<circle cx="1114.34" cy="144.30" r="11.1" fill="#ff0000"/>
<circle cx="1161.16" cy="145.31" r="11.1" fill="#ff0000"/>
<circle cx="1207.98" cy="146.32" r="11.1" fill="#ff0000"/>
<circle cx="1254.80" cy="147.32" r="11.1" fill="#ff0000"/>
<circle cx="1301.62" cy="148.67" r="11.1" fill="#ff0000"/>
<circle cx="1348.44" cy="150.02" r="11.1" fill="#ff0000"/>
<circle cx="1395.26" cy="151.36" r="11.1" fill="#ff0000"/>
<circle cx="1442.08" cy="152.37" r="11.1" fill="#ff0000"/>
<circle cx="1488.90" cy="153.38" r="11.1" fill="#ff0000"/>
<circle cx="1535.72" cy="154.39" r="11.1" fill="#ff0000"/>
<circle cx="1582.54" cy="155.06" r="11.1" fill="#ff0000"/>
<circle cx="1629.36" cy="155.40" r="11.1" fill="#ff0000"/>
<polygon points="318.6,575.0 320.2,581.4 326.6,583.0 320.2,584.6 318.6,591.0 317.0,584.6 310.6,583.0 317.0,581.4" fill="#ff0000"/>
<polygon points="346.7,575.0 348.3,581.4 354.7,583.0 348.3,584.6 346.7,591.0 345.1,584.6 338.7,583.0 345.1,581.4" fill="#ff0000"/>
<polygon points="374.8,575.0 376.4,581.4 382.8,583.0 376.4,584.6 374.8,591.0 373.1,584.6 366.8,583.0 373.1,581.4" fill="#ff0000"/>
<polygon points="402.8,575.0 404.5,581.4 410.8,583.0 404.5,584.6 402.8,591.0 401.2,584.6 394.8,583.0 401.2,581.4" fill="#ff0000"/>
<polygon points="430.9,575.0 432.5,581.4 438.9,583.0 432.5,584.6 430.9,591.0 429.3,584.6 422.9,583.0 429.3,581.4" fill="#ff0000"/>
<polygon points="459.0,575.0 460.6,581.4 467.0,583.0 460.6,584.6 459.0,591.0 457.4,584.6 451.0,583.0 457.4,581.4" fill="#ff0000"/>
<polygon points="487.1,575.0 488.7,581.4 495.1,583.0 488.7,584.6 487.1,591.0 485.5,584.6 479.1,583.0 485.5,581.4" fill="#ff0000"/>
<polygon points="515.2,575.0 516.8,581.4 523.2,583.0 516.8,584.6 515.2,591.0 513.5,584.6 507.2,583.0 513.5,581.4" fill="#ff0000"/>
<polygon points="543.2,575.0 544.9,581.4 551.2,583.0 544.9,584.6 543.2,591.0 541.6,584.6 535.2,583.0 541.6,581.4" fill="#ff0000"/>
<polygon points="571.3,575.0 572.9,581.4 579.3,583.0 572.9,584.6 571.3,591.0 569.7,584.6 563.3,583.0 569.7,581.4" fill="#ff0000"/>
<polygon points="599.4,575.0 601.0,581.4 607.4,583.0 601.0,584.6 599.4,591.0 597.8,584.6 591.4,583.0 597.8,581.4" fill="#ff0000"/>
<polygon points="627.5,575.0 629.1,581.4 635.5,583.0 629.1,584.6 627.5,591.0 625.9,584.6 619.5,583.0 625.9,581.4" fill="#ff0000"/>
<polygon points="655.6,575.0 657.2,581.4 663.6,583.0 657.2,584.6 655.6,591.0 653.9,584.6 647.6,583.0 653.9,581.4" fill="#ff0000"/>
<polygon points="683.6,575.0 685.3,581.4 691.6,583.0 685.3,584.6 683.6,591.0 682.0,584.6 675.6,583.0 682.0,581.4" fill="#ff0000"/>
<polygon points="711.7,575.0 713.3,581.4 719.7,583.0 713.3,584.6 711.7,591.0 710.1,584.6 703.7,583.0 710.1,581.4" fill="#ff0000"/>
<polygon points="739.8,575.0 741.4,581.4 747.8,583.0 741.4,584.6 739.8,591.0 738.2,584.6 731.8,583.0 738.2,581.4" fill="#ff0000"/>
<polygon points="767.9,575.0 769.5,581.4 775.9,583.0 769.5,584.6 767.9,591.0 766.3,584.6 759.9,583.0 766.3,581.4" fill="#ff0000"/>
<polygon points="796.0,575.0 797.6,581.4 804.0,583.0 797.6,584.6 796.0,591.0 794.3,584.6 788.0,583.0 794.3,581.4" fill="#ff0000"/>
<polygon points="824.0,575.0 825.7,581.4 832.0,583.0 825.7,584.6 824.0,591.0 822.4,584.6 816.0,583.0 822.4,581.4" fill="#ff0000"/>
<polygon points="852.1,575.0 853.7,581.4 860.1,583.0 853.7,584.6 852.1,591.0 850.5,584.6 844.1,583.0 850.5,581.4" fill="#ff0000"/>
<polygon points="880.2,575.0 881.8,581.4 888.2,583.0 881.8,584.6 880.2,591.0 878.6,584.6 872.2,583.0 878.6,581.4" fill="#ff0000"/>
<polygon points="908.3,575.0 909.9,581.4 916.3,583.0 909.9,584.6 908.3,591.0 906.7,584.6 900.3,583.0 906.7,581.4" fill="#ff0000"/>
<polygon points="936.4,575.0 938.0,581.4 944.4,583.0 938.0,584.6 936.4,591.0 934.7,584.6 928.4,583.0 934.7,581.4" fill="#ff0000"/>
<polygon points="964.4,575.0 966.1,581.4 972.4,583.0 966.1,584.6 964.4,591.0 962.8,584.6 956.4,583.0 962.8,581.4" fill="#ff0000"/>
<polygon points="992.5,575.0 994.1,581.4 1000.5,583.0 994.1,584.6 992.5,591.0 990.9,584.6 984.5,583.0 990.9,581.4" fill="#ff0000"/>
<polygon points="1020.6,575.0 1022.2,581.4 1028.6,583.0 1022.2,584.6 1020.6,591.0 1019.0,584.6 1012.6,583.0 1019.0,581.4" fill="#ff0000"/>
<polygon points="1048.7,575.0 1050.3,581.4 1056.7,583.0 1050.3,584.6 1048.7,591.0 1047.1,584.6 1040.7,583.0 1047.1,581.4" fill="#ff0000"/>
<polygon points="1076.8,575.0 1078.4,581.4 1084.8,583.0 1078.4,584.6 1076.8,591.0 1075.1,584.6 1068.8,583.0 1075.1,581.4" fill="#ff0000"/>
<polygon points="1104.8,575.0 1106.5,581.4 1112.8,583.0 1106.5,584.6 1104.8,591.0 1103.2,584.6 1096.8,583.0 1103.2,581.4" fill="#ff0000"/>
<polygon points="1132.9,575.0 1134.5,581.4 1140.9,583.0 1134.5,584.6 1132.9,591.0 1131.3,584.6 1124.9,583.0 1131.3,581.4" fill="#ff0000"/>
<polygon points="1161.0,575.0 1162.6,581.4 1169.0,583.0 1162.6,584.6 1161.0,591.0 1159.4,584.6 1153.0,583.0 1159.4,581.4" fill="#ff0000"/>
<polygon points="1189.1,575.0 1190.7,581.4 1197.1,583.0 1190.7,584.6 1189.1,591.0 1187.5,584.6 1181.1,583.0 1187.5,581.4" fill="#ff0000"/>
<polygon points="1217.2,575.0 1218.8,581.4 1225.2,583.0 1218.8,584.6 1217.2,591.0 1215.5,584.6 1209.2,583.0 1215.5,581.4" fill="#ff0000"/>
<polygon points="1245.2,575.0 1246.9,581.4 1253.2,583.0 1246.9,584.6 1245.2,591.0 1243.6,584.6 1237.2,583.0 1243.6,581.4" fill="#ff0000"/>
<polygon points="1273.3,575.0 1274.9,581.4 1281.3,583.0 1274.9,584.6 1273.3,591.0 1271.7,584.6 1265.3,583.0 1271.7,581.4" fill="#ff0000"/>
<polygon points="1301.4,575.0 1303.0,581.4 1309.4,583.0 1303.0,584.6 1301.4,591.0 1299.8,584.6 1293.4,583.0 1299.8,581.4" fill="#ff0000"/>
<polygon points="1329.5,575.0 1331.1,581.4 1337.5,583.0 1331.1,584.6 1329.5,591.0 1327.9,584.6 1321.5,583.0 1327.9,581.4" fill="#ff0000"/>
<polygon points="1357.6,575.0 1359.2,581.4 1365.6,583.0 1359.2,584.6 1357.6,591.0 1355.9,584.6 1349.6,583.0 1355.9,581.4" fill="#ff0000"/>
<polygon points="1385.6,575.0 1387.3,581.4 1393.6,583.0 1387.3,584.6 1385.6,591.0 1384.0,584.6 1377.6,583.0 1384.0,581.4" fill="#ff0000"/>
<polygon points="1413.7,575.0 1415.3,581.4 1421.7,583.0 1415.3,584.6 1413.7,591.0 1412.1,584.6 1405.7,583.0 1412.1,581.4" fill="#ff0000"/>
<polygon points="1441.8,575.0 1443.4,581.4 1449.8,583.0 1443.4,584.6 1441.8,591.0 1440.2,584.6 1433.8,583.0 1440.2,581.4" fill="#ff0000"/>
<polygon points="1469.9,575.0 1471.5,581.4 1477.9,583.0 1471.5,584.6 1469.9,591.0 1468.3,584.6 1461.9,583.0 1468.3,581.4" fill="#ff0000"/>
<polygon points="1498.0,575.0 1499.6,581.4 1506.0,583.0 1499.6,584.6 1498.0,591.0 1496.3,584.6 1490.0,583.0 1496.3,581.4" fill="#ff0000"/>
<polygon points="1526.0,575.0 1527.7,581.4 1534.0,583.0 1527.7,584.6 1526.0,591.0 1524.4,584.6 1518.0,583.0 1524.4,581.4" fill="#ff0000"/>
<polygon points="1554.1,575.0 1555.7,581.4 1562.1,583.0 1555.7,584.6 1554.1,591.0 1552.5,584.6 1546.1,583.0 1552.5,581.4" fill="#ff0000"/>
<polygon points="1582.2,575.0 1583.8,581.4 1590.2,583.0 1583.8,584.6 1582.2,591.0 1580.6,584.6 1574.2,583.0 1580.6,581.4" fill="#ff0000"/>
<polygon points="1610.3,575.0 1611.9,581.4 1618.3,583.0 1611.9,584.6 1610.3,591.0 1608.7,584.6 1602.3,583.0 1608.7,581.4" fill="#ff0000"/>
<polygon points="1638.4,575.0 1640.0,581.4 1646.4,583.0 1640.0,584.6 1638.4,591.0 1636.7,584.6 1630.4,583.0 1636.7,581.4" fill="#ff0000"/>
<text transform="translate(175.54,1064.98) scale(0.9450,1)" font-family="'Liberation Sans', sans-serif" font-size="52.50">-15</text>
<text transform="translate(175.29,896.74) scale(0.9450,1)" font-family="'Liberation Sans', sans-serif" font-size="52.50">-10</text>
<text transform="translate(203.13,728.51) scale(0.9450,1)" font-family="'Liberation Sans', sans-serif" font-size="52.50">-5</text>
<text transform="translate(219.40,560.28) scale(0.9450,1)" font-family="'Liberation Sans', sans-serif" font-size="52.50">0</text>
<text transform="translate(219.65,392.04) scale(0.9450,1)" font-family="'Liberation Sans', sans-serif" font-size="52.50">5</text>
<text transform="translate(191.81,223.81) scale(0.9450,1)" font-family="'Liberation Sans', sans-serif" font-size="52.50">10</text>
<text transform="translate(192.06,55.58) scale(0.9450,1)" font-family="'Liberation Sans', sans-serif" font-size="52.50">15</text>
<text transform="translate(1728.02,1064.98) scale(0.9450,1)" font-family="'Liberation Sans', sans-serif" font-size="52.50">2</text>
<text transform="translate(1728.76,920.78) scale(0.9450,1)" font-family="'Liberation Sans', sans-serif" font-size="52.50">3</text>
<text transform="translate(1729.51,776.58) scale(0.9450,1)" font-family="'Liberation Sans', sans-serif" font-size="52.50">4</text>
<text transform="translate(1728.52,632.38) scale(0.9450,1)" font-family="'Liberation Sans', sans-serif" font-size="52.50">5</text>
<text transform="translate(1728.02,488.18) scale(0.9450,1)" font-family="'Liberation Sans', sans-serif" font-size="52.50">6</text>
<text transform="translate(1728.02,343.98) scale(0.9450,1)" font-family="'Liberation Sans', sans-serif" font-size="52.50">7</text>
<text transform="translate(1728.52,199.78) scale(0.9450,1)" font-family="'Liberation Sans', sans-serif" font-size="52.50">8</text>
<text transform="translate(1728.27,55.58) scale(0.9450,1)" font-family="'Liberation Sans', sans-serif" font-size="52.50">9</text>
<text transform="translate(300.20,1158.78) scale(0.9450,1)" font-family="'Liberation Sans', sans-serif" font-size="52.50">0</text>
<text transform="translate(412.50,1158.78) scale(0.9450,1)" font-family="'Liberation Sans', sans-serif" font-size="52.50">2</text>
<text transform="translate(524.80,1158.78) scale(0.9450,1)" font-family="'Liberation Sans', sans-serif" font-size="52.50">4</text>
<text transform="translate(637.10,1158.78) scale(0.9450,1)" font-family="'Liberation Sans', sans-serif" font-size="52.50">6</text>
<text transform="translate(749.40,1158.78) scale(0.9450,1)" font-family="'Liberation Sans', sans-serif" font-size="52.50">8</text>
<text transform="translate(847.91,1158.78) scale(0.9450,1)" font-family="'Liberation Sans', sans-serif" font-size="52.50">10</text>
<text transform="translate(960.21,1158.78) scale(0.9450,1)" font-family="'Liberation Sans', sans-serif" font-size="52.50">12</text>
<text transform="translate(1072.51,1158.78) scale(0.9450,1)" font-family="'Liberation Sans', sans-serif" font-size="52.50">14</text>
<text transform="translate(1184.81,1158.78) scale(0.9450,1)" font-family="'Liberation Sans', sans-serif" font-size="52.50">16</text>
<text transform="translate(1297.11,1158.78) scale(0.9450,1)" font-family="'Liberation Sans', sans-serif" font-size="52.50">18</text>
<text transform="translate(1409.41,1158.78) scale(0.9450,1)" font-family="'Liberation Sans', sans-serif" font-size="52.50">20</text>
<text transform="translate(1521.71,1158.78) scale(0.9450,1)" font-family="'Liberation Sans', sans-serif" font-size="52.50">22</text>
<text transform="translate(1634.01,1158.78) scale(0.9450,1)" font-family="'Liberation Sans', sans-serif" font-size="52.50">24</text>
<text transform="translate(127.50,722.07) rotate(-90) scale(0.9272,1)" font-family="'Liberation Sans', sans-serif" font-size="98.63" font-style="italic">T</text>
<text transform="translate(139.30,668.19) rotate(-90) scale(0.8278,1)" font-family="'Liberation Sans', sans-serif" font-size="59.86" font-style="italic">f</text>
<text transform="translate(126.71,655.96) rotate(-90) scale(0.9815,1)" font-family="'Liberation Sans', sans-serif" font-size="99.17" font-style="italic">,</text>
<text transform="translate(127.50,601.57) rotate(-90) scale(0.9272,1)" font-family="'Liberation Sans', sans-serif" font-size="98.63" font-style="italic">T</text>
<text transform="translate(136.60,548.49) rotate(-90) scale(0.9533,1)" font-family="'Liberation Sans', sans-serif" font-size="60.18">e</text>
<text transform="translate(121.75,494.61) rotate(-90) scale(1.0228,1)" font-family="'Liberation Sans', sans-serif" font-size="91.66">[</text>
<text transform="translate(92.24,467.76) rotate(-90) scale(1.0010,1)" font-family="'Liberation Sans', sans-serif" font-size="56.36">o</text>
<text transform="translate(129.79,438.04) rotate(-90) scale(0.9522,1)" font-family="'Liberation Sans', sans-serif" font-size="91.13">C</text>
<text transform="translate(121.75,373.37) rotate(-90) scale(1.0165,1)" font-family="'Liberation Sans', sans-serif" font-size="91.66">]</text>
<text transform="translate(1866.04,710.06) rotate(-90) scale(0.9690,1)" font-family="'Liberation Sans', sans-serif" font-size="95.07" font-style="italic">q</text>
<text transform="translate(1893.72,656.30) rotate(-90) scale(1.0098,1)" font-family="'Liberation Sans', sans-serif" font-size="56.16" font-style="italic">f</text>
<text transform="translate(1869.76,593.24) rotate(-90) scale(1.0223,1)" font-family="'Liberation Sans', sans-serif" font-size="80.21">[</text>
<text transform="translate(1879.70,569.00) rotate(-90) scale(0.9328,1)" font-family="'Liberation Sans', sans-serif" font-size="85.65">W</text>
<text transform="translate(1878.50,492.00) rotate(-90) scale(0.9480,1)" font-family="'Liberation Sans', sans-serif" font-size="79.86">/</text>
<text transform="translate(1879.70,469.65) rotate(-90) scale(0.9665,1)" font-family="'Liberation Sans', sans-serif" font-size="82.04">m</text>
<text transform="translate(1838.50,403.17) rotate(-90) scale(1.0405,1)" font-family="'Liberation Sans', sans-serif" font-size="47.43">2</text>
<text transform="translate(1869.76,375.67) rotate(-90) scale(0.9304,1)" font-family="'Liberation Sans', sans-serif" font-size="80.21">]</text>
<text transform="translate(912.07,1251.37) scale(0.9158,1)" font-family="'Liberation Sans', sans-serif" font-size="102.73" font-style="italic">t</text>
<text transform="translate(961.92,1241.13) scale(1.0585,1)" font-family="'Liberation Sans', sans-serif" font-size="79.36">[</text>
<text transform="translate(983.32,1250.90) scale(1.0600,1)" font-family="'Liberation Sans', sans-serif" font-size="80.96">h</text>
<text transform="translate(1031.28,1241.13) scale(1.0696,1)" font-family="'Liberation Sans', sans-serif" font-size="79.36">]</text>
<text transform="translate(679.12,225.15) scale(0.9701,1)" font-family="'Liberation Sans', sans-serif" font-size="45.31">Transient</text>
<text transform="translate(1112.22,233.39) scale(1.0025,1)" font-family="'Liberation Sans', sans-serif" font-size="43.85">Steady state</text>
<circle cx="684.40" cy="265.30" r="19.6" fill="#ff0000"/>
<polygon points="684.4,311.8 690.2,321.8 701.7,321.8 695.9,331.8 701.7,341.8 690.2,341.8 684.4,351.8 678.6,341.8 667.1,341.8 672.9,331.8 667.1,321.8 678.6,321.8" fill="#ff0000"/>
<line x1="578.00" y1="396.00" x2="792.50" y2="396.00" stroke="#ff0000" stroke-width="10" stroke-linecap="round"/>
<path d="M678.9 445.6h11v14.6h14.5v11h-14.5v14.6h-11v-14.6h-14.5v-11h14.5z" fill="#ff0000"/>
<circle cx="1203.20" cy="273.60" r="19.2" fill="none" stroke="#0000ff" stroke-width="2.5"/>
<polygon points="1203.6,319.0 1209.4,329.0 1220.9,329.0 1215.1,339.0 1220.9,349.0 1209.4,349.0 1203.6,359.0 1197.8,349.0 1186.3,349.0 1192.1,339.0 1186.3,329.0 1197.8,329.0" fill="#0000ff"/>
<line x1="1098.00" y1="406.10" x2="1311.20" y2="406.10" stroke="#0000ff" stroke-width="10.2" stroke-linecap="round"/>
<text transform="translate(835.34,278.20) scale(0.9068,1)" font-family="'Liberation Sans', sans-serif" font-size="46.19" font-style="italic">T</text>
<text transform="translate(858.07,287.86) scale(1.0948,1)" font-family="'Liberation Sans', sans-serif" font-size="28.36" font-style="italic">f</text>
<text transform="translate(835.34,344.20) scale(0.9068,1)" font-family="'Liberation Sans', sans-serif" font-size="46.19" font-style="italic">T</text>
<text transform="translate(858.76,353.73) scale(1.0396,1)" font-family="'Liberation Sans', sans-serif" font-size="27.09" font-style="italic">e</text>
<text transform="translate(831.81,408.38) scale(1.0438,1)" font-family="'Liberation Sans', sans-serif" font-size="44.40" font-style="italic">q</text>
<text transform="translate(855.78,418.17) scale(1.1510,1)" font-family="'Liberation Sans', sans-serif" font-size="26.71" font-style="italic">f</text>
<text transform="translate(831.81,474.38) scale(1.0438,1)" font-family="'Liberation Sans', sans-serif" font-size="44.40" font-style="italic">q</text>
<text transform="translate(855.94,489.41) scale(0.9150,1)" font-family="'Liberation Sans', sans-serif" font-size="27.59" font-style="italic">f, averaged</text>
<text transform="translate(1354.10,286.80) scale(0.9324,1)" font-family="'Liberation Sans', sans-serif" font-size="45.47" font-style="italic">T</text>
<text transform="translate(1377.40,296.16) scale(1.1004,1)" font-family="'Liberation Sans', sans-serif" font-size="27.40" font-style="italic">f</text>
<text transform="translate(1354.10,352.00) scale(0.9353,1)" font-family="'Liberation Sans', sans-serif" font-size="45.32" font-style="italic">T</text>
<text transform="translate(1378.63,361.24) scale(1.0030,1)" font-family="'Liberation Sans', sans-serif" font-size="25.64" font-style="italic">e</text>
<text transform="translate(1351.66,415.68) scale(1.0392,1)" font-family="'Liberation Sans', sans-serif" font-size="42.93" font-style="italic">q</text>
<text transform="translate(1373.50,428.76) scale(1.2203,1)" font-family="'Liberation Sans', sans-serif" font-size="27.40" font-style="italic">f</text>
<text transform="translate(930.08,1360.39) scale(0.8862,1)" font-family="'Liberation Serif', serif" font-size="85.16">(</text>
<text transform="translate(956.67,1360.44) scale(0.9446,1)" font-family="'Liberation Serif', serif" font-size="85.62" font-weight="bold">a</text>
<text transform="translate(998.42,1360.39) scale(0.9303,1)" font-family="'Liberation Serif', serif" font-size="85.16">)</text>
</g>
<g id="chart-b">
<defs><pattern id="dith" width="13" height="13" patternUnits="userSpaceOnUse"><rect width="13" height="13" fill="#fefefe"/><circle cx="2" cy="2.5" r="1" fill="#e9e9f4"/><circle cx="8.5" cy="5" r="1" fill="#eaeaf5"/><circle cx="4.5" cy="10" r="1" fill="#e9e9f4"/><circle cx="11" cy="11" r="1" fill="#eff8de"/></pattern></defs>
<rect x="16" y="1402" width="1918" height="1435" fill="url(#dith)"/>
<line x1="305.30" y1="1417.20" x2="1912.20" y2="1417.20" stroke="#000" stroke-width="5.2" stroke-linecap="butt"/>
<line x1="305.30" y1="2578.80" x2="1909.50" y2="2578.80" stroke="#000" stroke-width="5.0" stroke-linecap="butt"/>
<line x1="360.20" y1="1415.20" x2="360.20" y2="2632.80" stroke="#000" stroke-width="5.0" stroke-linecap="butt"/>
<line x1="305.30" y1="1533.12" x2="360.20" y2="1533.12" stroke="#000" stroke-width="5.0" stroke-linecap="butt"/>
<line x1="305.30" y1="1649.04" x2="360.20" y2="1649.04" stroke="#000" stroke-width="5.0" stroke-linecap="butt"/>
<line x1="305.30" y1="1764.96" x2="360.20" y2="1764.96" stroke="#000" stroke-width="5.0" stroke-linecap="butt"/>
<line x1="305.30" y1="1880.88" x2="360.20" y2="1880.88" stroke="#000" stroke-width="5.0" stroke-linecap="butt"/>
<line x1="305.30" y1="1996.80" x2="360.20" y2="1996.80" stroke="#000" stroke-width="5.0" stroke-linecap="butt"/>
<line x1="305.30" y1="2113.20" x2="360.20" y2="2113.20" stroke="#000" stroke-width="5.0" stroke-linecap="butt"/>
<line x1="305.30" y1="2229.60" x2="360.20" y2="2229.60" stroke="#000" stroke-width="5.0" stroke-linecap="butt"/>
<line x1="305.30" y1="2346.00" x2="360.20" y2="2346.00" stroke="#000" stroke-width="5.0" stroke-linecap="butt"/>
<line x1="305.30" y1="2462.40" x2="360.20" y2="2462.40" stroke="#000" stroke-width="5.0" stroke-linecap="butt"/>
<line x1="489.31" y1="2578.80" x2="489.31" y2="2632.80" stroke="#000" stroke-width="5.0" stroke-linecap="butt"/>
<line x1="618.42" y1="2578.80" x2="618.42" y2="2632.80" stroke="#000" stroke-width="5.0" stroke-linecap="butt"/>
<line x1="747.52" y1="2578.80" x2="747.52" y2="2632.80" stroke="#000" stroke-width="5.0" stroke-linecap="butt"/>
<line x1="876.63" y1="2578.80" x2="876.63" y2="2632.80" stroke="#000" stroke-width="5.0" stroke-linecap="butt"/>
<line x1="1005.74" y1="2578.80" x2="1005.74" y2="2632.80" stroke="#000" stroke-width="5.0" stroke-linecap="butt"/>
<line x1="1134.85" y1="2578.80" x2="1134.85" y2="2632.80" stroke="#000" stroke-width="5.0" stroke-linecap="butt"/>
<line x1="1263.96" y1="2578.80" x2="1263.96" y2="2632.80" stroke="#000" stroke-width="5.0" stroke-linecap="butt"/>
<line x1="1393.07" y1="2578.80" x2="1393.07" y2="2632.80" stroke="#000" stroke-width="5.0" stroke-linecap="butt"/>
<line x1="1522.17" y1="2578.80" x2="1522.17" y2="2632.80" stroke="#000" stroke-width="5.0" stroke-linecap="butt"/>
<line x1="1651.28" y1="2578.80" x2="1651.28" y2="2632.80" stroke="#000" stroke-width="5.0" stroke-linecap="butt"/>
<line x1="1780.39" y1="2578.80" x2="1780.39" y2="2632.80" stroke="#000" stroke-width="5.0" stroke-linecap="butt"/>
<clipPath id="clipb"><rect x="340.2" y="1417.2" width="1569.3" height="1161.6000000000001"/></clipPath><g clip-path="url(#clipb)">
<circle cx="365.20" cy="2187.96" r="11.6" fill="none" stroke="#0000ff" stroke-width="2"/>
<circle cx="392.10" cy="2187.96" r="11.6" fill="none" stroke="#0000ff" stroke-width="2"/>
<circle cx="419.00" cy="2187.96" r="11.6" fill="none" stroke="#0000ff" stroke-width="2"/>
<circle cx="445.90" cy="2187.96" r="11.6" fill="none" stroke="#0000ff" stroke-width="2"/>
<circle cx="472.80" cy="2187.96" r="11.6" fill="none" stroke="#0000ff" stroke-width="2"/>
<circle cx="499.70" cy="2187.96" r="11.6" fill="none" stroke="#0000ff" stroke-width="2"/>
<circle cx="526.60" cy="2187.96" r="11.6" fill="none" stroke="#0000ff" stroke-width="2"/>
<circle cx="553.50" cy="2187.96" r="11.6" fill="none" stroke="#0000ff" stroke-width="2"/>
<circle cx="580.40" cy="2187.96" r="11.6" fill="none" stroke="#0000ff" stroke-width="2"/>
<circle cx="607.30" cy="2187.96" r="11.6" fill="none" stroke="#0000ff" stroke-width="2"/>
<circle cx="634.20" cy="2187.96" r="11.6" fill="none" stroke="#0000ff" stroke-width="2"/>
<circle cx="661.10" cy="2187.96" r="11.6" fill="none" stroke="#0000ff" stroke-width="2"/>
<circle cx="688.00" cy="2187.96" r="11.6" fill="none" stroke="#0000ff" stroke-width="2"/>
<circle cx="714.90" cy="2187.96" r="11.6" fill="none" stroke="#0000ff" stroke-width="2"/>
<circle cx="741.80" cy="2187.96" r="11.6" fill="none" stroke="#0000ff" stroke-width="2"/>
<circle cx="768.70" cy="2187.96" r="11.6" fill="none" stroke="#0000ff" stroke-width="2"/>
<circle cx="795.60" cy="2187.96" r="11.6" fill="none" stroke="#0000ff" stroke-width="2"/>
<circle cx="822.50" cy="2187.96" r="11.6" fill="none" stroke="#0000ff" stroke-width="2"/>
<circle cx="849.40" cy="2187.96" r="11.6" fill="none" stroke="#0000ff" stroke-width="2"/>
<circle cx="876.30" cy="2187.96" r="11.6" fill="none" stroke="#0000ff" stroke-width="2"/>
<circle cx="903.20" cy="2187.96" r="11.6" fill="none" stroke="#0000ff" stroke-width="2"/>
<circle cx="930.10" cy="2187.96" r="11.6" fill="none" stroke="#0000ff" stroke-width="2"/>
<circle cx="957.00" cy="2187.96" r="11.6" fill="none" stroke="#0000ff" stroke-width="2"/>
<circle cx="983.90" cy="2187.96" r="11.6" fill="none" stroke="#0000ff" stroke-width="2"/>
<circle cx="1010.80" cy="2187.96" r="11.6" fill="none" stroke="#0000ff" stroke-width="2"/>
<circle cx="1037.70" cy="2187.96" r="11.6" fill="none" stroke="#0000ff" stroke-width="2"/>
<circle cx="1064.60" cy="2187.96" r="11.6" fill="none" stroke="#0000ff" stroke-width="2"/>
<circle cx="1091.50" cy="2187.96" r="11.6" fill="none" stroke="#0000ff" stroke-width="2"/>
<circle cx="1118.40" cy="2187.96" r="11.6" fill="none" stroke="#0000ff" stroke-width="2"/>
<circle cx="1145.30" cy="2187.96" r="11.6" fill="none" stroke="#0000ff" stroke-width="2"/>
<circle cx="1172.20" cy="2187.96" r="11.6" fill="none" stroke="#0000ff" stroke-width="2"/>
<circle cx="1199.10" cy="2187.96" r="11.6" fill="none" stroke="#0000ff" stroke-width="2"/>
<circle cx="1226.00" cy="2187.96" r="11.6" fill="none" stroke="#0000ff" stroke-width="2"/>
<circle cx="1252.90" cy="2187.96" r="11.6" fill="none" stroke="#0000ff" stroke-width="2"/>
<circle cx="1279.80" cy="2187.96" r="11.6" fill="none" stroke="#0000ff" stroke-width="2"/>
<circle cx="1306.70" cy="2187.96" r="11.6" fill="none" stroke="#0000ff" stroke-width="2"/>
<circle cx="1333.60" cy="2187.96" r="11.6" fill="none" stroke="#0000ff" stroke-width="2"/>
<circle cx="1360.50" cy="2187.96" r="11.6" fill="none" stroke="#0000ff" stroke-width="2"/>
<circle cx="1387.40" cy="2187.96" r="11.6" fill="none" stroke="#0000ff" stroke-width="2"/>
<circle cx="1414.30" cy="2187.96" r="11.6" fill="none" stroke="#0000ff" stroke-width="2"/>
<circle cx="1441.20" cy="2187.96" r="11.6" fill="none" stroke="#0000ff" stroke-width="2"/>
<circle cx="1468.10" cy="2187.96" r="11.6" fill="none" stroke="#0000ff" stroke-width="2"/>
<circle cx="1495.00" cy="2187.96" r="11.6" fill="none" stroke="#0000ff" stroke-width="2"/>
<circle cx="1521.90" cy="2187.96" r="11.6" fill="none" stroke="#0000ff" stroke-width="2"/>
<circle cx="1548.80" cy="2187.96" r="11.6" fill="none" stroke="#0000ff" stroke-width="2"/>
<circle cx="1575.70" cy="2187.96" r="11.6" fill="none" stroke="#0000ff" stroke-width="2"/>
<circle cx="1602.60" cy="2187.96" r="11.6" fill="none" stroke="#0000ff" stroke-width="2"/>
<circle cx="1629.50" cy="2187.96" r="11.6" fill="none" stroke="#0000ff" stroke-width="2"/>
<circle cx="1656.40" cy="2187.96" r="11.6" fill="none" stroke="#0000ff" stroke-width="2"/>
<circle cx="1683.30" cy="2187.96" r="11.6" fill="none" stroke="#0000ff" stroke-width="2"/>
<circle cx="1710.20" cy="2187.96" r="11.6" fill="none" stroke="#0000ff" stroke-width="2"/>
<circle cx="1737.10" cy="2187.96" r="11.6" fill="none" stroke="#0000ff" stroke-width="2"/>
<circle cx="1764.00" cy="2187.96" r="11.6" fill="none" stroke="#0000ff" stroke-width="2"/>
<circle cx="1790.90" cy="2187.96" r="11.6" fill="none" stroke="#0000ff" stroke-width="2"/>
<circle cx="1817.80" cy="2187.96" r="11.6" fill="none" stroke="#0000ff" stroke-width="2"/>
<circle cx="1844.70" cy="2187.96" r="11.6" fill="none" stroke="#0000ff" stroke-width="2"/>
<circle cx="1871.60" cy="2187.96" r="11.6" fill="none" stroke="#0000ff" stroke-width="2"/>
<circle cx="1898.50" cy="2187.96" r="11.6" fill="none" stroke="#0000ff" stroke-width="2"/>
<circle cx="365.20" cy="2293.12" r="12.6" fill="#ff0000"/>
<circle cx="392.10" cy="2293.12" r="12.6" fill="#ff0000"/>
<circle cx="419.00" cy="2287.30" r="12.6" fill="#ff0000"/>
<circle cx="445.90" cy="2287.30" r="12.6" fill="#ff0000"/>
<circle cx="472.80" cy="2281.48" r="12.6" fill="#ff0000"/>
<circle cx="499.70" cy="2275.66" r="12.6" fill="#ff0000"/>
<circle cx="526.60" cy="2269.84" r="12.6" fill="#ff0000"/>
<circle cx="553.50" cy="2264.02" r="12.6" fill="#ff0000"/>
<circle cx="580.40" cy="2252.38" r="12.6" fill="#ff0000"/>
<circle cx="607.30" cy="2246.56" r="12.6" fill="#ff0000"/>
<circle cx="634.20" cy="2234.92" r="12.6" fill="#ff0000"/>
<circle cx="661.10" cy="2223.28" r="12.6" fill="#ff0000"/>
<circle cx="688.00" cy="2211.64" r="12.6" fill="#ff0000"/>
<circle cx="714.90" cy="2200.00" r="12.6" fill="#ff0000"/>
<circle cx="741.80" cy="2188.36" r="12.6" fill="#ff0000"/>
<circle cx="768.70" cy="2176.72" r="12.6" fill="#ff0000"/>
<circle cx="795.60" cy="2170.90" r="12.6" fill="#ff0000"/>
<circle cx="822.50" cy="2159.26" r="12.6" fill="#ff0000"/>
<circle cx="849.40" cy="2147.62" r="12.6" fill="#ff0000"/>
<circle cx="876.30" cy="2135.98" r="12.6" fill="#ff0000"/>
<circle cx="903.20" cy="2124.34" r="12.6" fill="#ff0000"/>
<circle cx="930.10" cy="2118.52" r="12.6" fill="#ff0000"/>
<circle cx="957.00" cy="2106.88" r="12.6" fill="#ff0000"/>
<circle cx="983.90" cy="2101.06" r="12.6" fill="#ff0000"/>
<circle cx="1010.80" cy="2095.24" r="12.6" fill="#ff0000"/>
<circle cx="1037.70" cy="2089.42" r="12.6" fill="#ff0000"/>
<circle cx="1064.60" cy="2089.42" r="12.6" fill="#ff0000"/>
<circle cx="1091.50" cy="2083.60" r="12.6" fill="#ff0000"/>
<circle cx="1118.40" cy="2083.60" r="12.6" fill="#ff0000"/>
<circle cx="1145.30" cy="2083.60" r="12.6" fill="#ff0000"/>
<circle cx="1172.20" cy="2083.60" r="12.6" fill="#ff0000"/>
<circle cx="1199.10" cy="2089.42" r="12.6" fill="#ff0000"/>
<circle cx="1226.00" cy="2089.42" r="12.6" fill="#ff0000"/>
<circle cx="1252.90" cy="2095.24" r="12.6" fill="#ff0000"/>
<circle cx="1279.80" cy="2101.06" r="12.6" fill="#ff0000"/>
<circle cx="1306.70" cy="2106.88" r="12.6" fill="#ff0000"/>
<circle cx="1333.60" cy="2118.52" r="12.6" fill="#ff0000"/>
<circle cx="1360.50" cy="2124.34" r="12.6" fill="#ff0000"/>
<circle cx="1387.40" cy="2135.98" r="12.6" fill="#ff0000"/>
<circle cx="1414.30" cy="2141.80" r="12.6" fill="#ff0000"/>
<circle cx="1441.20" cy="2153.44" r="12.6" fill="#ff0000"/>
<circle cx="1468.10" cy="2165.08" r="12.6" fill="#ff0000"/>
<circle cx="1495.00" cy="2176.72" r="12.6" fill="#ff0000"/>
<circle cx="1521.90" cy="2188.36" r="12.6" fill="#ff0000"/>
<circle cx="1548.80" cy="2200.00" r="12.6" fill="#ff0000"/>
<circle cx="1575.70" cy="2211.64" r="12.6" fill="#ff0000"/>
<circle cx="1602.60" cy="2223.28" r="12.6" fill="#ff0000"/>
<circle cx="1629.50" cy="2234.92" r="12.6" fill="#ff0000"/>
<circle cx="1656.40" cy="2240.74" r="12.6" fill="#ff0000"/>
<circle cx="1683.30" cy="2252.38" r="12.6" fill="#ff0000"/>
<circle cx="1710.20" cy="2258.20" r="12.6" fill="#ff0000"/>
<circle cx="1737.10" cy="2269.84" r="12.6" fill="#ff0000"/>
<circle cx="1764.00" cy="2275.66" r="12.6" fill="#ff0000"/>
<circle cx="1790.90" cy="2281.48" r="12.6" fill="#ff0000"/>
<circle cx="1817.80" cy="2287.30" r="12.6" fill="#ff0000"/>
<circle cx="1844.70" cy="2287.30" r="12.6" fill="#ff0000"/>
<circle cx="1871.60" cy="2293.12" r="12.6" fill="#ff0000"/>
<circle cx="1898.50" cy="2293.12" r="12.6" fill="#ff0000"/>
</g>
<line x1="360.20" y1="1997.00" x2="1914.00" y2="1997.00" stroke="#000" stroke-width="9.7" stroke-linecap="butt"/>
<line x1="1909.50" y1="1415.20" x2="1909.50" y2="2632.80" stroke="#000" stroke-width="5.4" stroke-linecap="butt"/>
<text transform="translate(219.59,1437.97) scale(0.9800,1)" font-family="'Liberation Sans', sans-serif" font-size="58.50">13</text>
<text transform="translate(171.78,1553.89) scale(0.9800,1)" font-family="'Liberation Sans', sans-serif" font-size="58.50">12.8</text>
<text transform="translate(171.78,1669.82) scale(0.9800,1)" font-family="'Liberation Sans', sans-serif" font-size="58.50">12.6</text>
<text transform="translate(170.92,1785.73) scale(0.9800,1)" font-family="'Liberation Sans', sans-serif" font-size="58.50">12.4</text>
<text transform="translate(172.07,1901.66) scale(0.9800,1)" font-family="'Liberation Sans', sans-serif" font-size="58.50">12.2</text>
<text transform="translate(219.88,2017.57) scale(0.9800,1)" font-family="'Liberation Sans', sans-serif" font-size="58.50">12</text>
<text transform="translate(171.78,2133.97) scale(0.9800,1)" font-family="'Liberation Sans', sans-serif" font-size="58.50">11.8</text>
<text transform="translate(171.78,2250.38) scale(0.9800,1)" font-family="'Liberation Sans', sans-serif" font-size="58.50">11.6</text>
<text transform="translate(170.92,2366.78) scale(0.9800,1)" font-family="'Liberation Sans', sans-serif" font-size="58.50">11.4</text>
<text transform="translate(172.07,2483.18) scale(0.9800,1)" font-family="'Liberation Sans', sans-serif" font-size="58.50">11.2</text>
<text transform="translate(219.88,2599.58) scale(0.9800,1)" font-family="'Liberation Sans', sans-serif" font-size="58.50">11</text>
<text transform="translate(344.79,2706.47) scale(0.9800,1)" font-family="'Liberation Sans', sans-serif" font-size="58.50">0</text>
<text transform="translate(473.76,2706.47) scale(0.9800,1)" font-family="'Liberation Sans', sans-serif" font-size="58.50">2</text>
<text transform="translate(603.15,2706.47) scale(0.9800,1)" font-family="'Liberation Sans', sans-serif" font-size="58.50">4</text>
<text transform="translate(731.83,2706.47) scale(0.9800,1)" font-family="'Liberation Sans', sans-serif" font-size="58.50">6</text>
<text transform="translate(861.22,2706.47) scale(0.9800,1)" font-family="'Liberation Sans', sans-serif" font-size="58.50">8</text>
<text transform="translate(973.24,2706.47) scale(0.9800,1)" font-family="'Liberation Sans', sans-serif" font-size="58.50">10</text>
<text transform="translate(1102.64,2706.47) scale(0.9800,1)" font-family="'Liberation Sans', sans-serif" font-size="58.50">12</text>
<text transform="translate(1231.17,2706.47) scale(0.9800,1)" font-family="'Liberation Sans', sans-serif" font-size="58.50">14</text>
<text transform="translate(1360.71,2706.47) scale(0.9800,1)" font-family="'Liberation Sans', sans-serif" font-size="58.50">16</text>
<text transform="translate(1489.82,2706.47) scale(0.9800,1)" font-family="'Liberation Sans', sans-serif" font-size="58.50">18</text>
<text transform="translate(1619.50,2706.47) scale(0.9800,1)" font-family="'Liberation Sans', sans-serif" font-size="58.50">20</text>
<text transform="translate(1748.90,2706.47) scale(0.9800,1)" font-family="'Liberation Sans', sans-serif" font-size="58.50">22</text>
<text transform="translate(1877.43,2706.47) scale(0.9800,1)" font-family="'Liberation Sans', sans-serif" font-size="58.50">24</text>
<text transform="translate(107.60,2213.81) rotate(-90) scale(0.9541,1)" font-family="'Liberation Sans', sans-serif" font-size="111.08" font-style="italic">T</text>
<text transform="translate(128.88,2152.06) rotate(-90) scale(1.1126,1)" font-family="'Liberation Sans', sans-serif" font-size="64.66" font-style="italic">f</text>
<text transform="translate(106.75,2132.84) rotate(-90) scale(0.9369,1)" font-family="'Liberation Sans', sans-serif" font-size="109.58" font-style="italic">,</text>
<text transform="translate(107.60,2066.48) rotate(-90) scale(0.9295,1)" font-family="'Liberation Sans', sans-serif" font-size="111.08" font-style="italic">T</text>
<text transform="translate(124.30,2006.54) rotate(-90) scale(1.0184,1)" font-family="'Liberation Sans', sans-serif" font-size="66.81" font-style="italic">L</text>
<text transform="translate(105.54,1941.21) rotate(-90) scale(0.8974,1)" font-family="'Liberation Sans', sans-serif" font-size="103.64">[</text>
<text transform="translate(66.97,1913.75) rotate(-90) scale(1.0849,1)" font-family="'Liberation Sans', sans-serif" font-size="63.45">o</text>
<text transform="translate(112.70,1875.96) rotate(-90) scale(0.9563,1)" font-family="'Liberation Sans', sans-serif" font-size="110.00">C</text>
<text transform="translate(105.54,1798.02) rotate(-90) scale(1.0120,1)" font-family="'Liberation Sans', sans-serif" font-size="103.64">]</text>
<text transform="translate(1048.32,2812.66) scale(0.8904,1)" font-family="'Liberation Sans', sans-serif" font-size="114.39" font-style="italic">t</text>
<text transform="translate(1105.21,2801.65) scale(1.0583,1)" font-family="'Liberation Sans', sans-serif" font-size="91.66">[</text>
<text transform="translate(1133.90,2812.74) scale(0.9440,1)" font-family="'Liberation Sans', sans-serif" font-size="92.88">h</text>
<text transform="translate(1185.04,2801.65) scale(1.0005,1)" font-family="'Liberation Sans', sans-serif" font-size="91.66">]</text>
<circle cx="925.20" cy="1520.30" r="21.7" fill="none" stroke="#0000ff" stroke-width="2.5"/>
<circle cx="925.20" cy="1588.60" r="23" fill="#ff0000"/>
<line x1="803.00" y1="1657.30" x2="1047.50" y2="1657.30" stroke="#000" stroke-width="11" stroke-linecap="round"/>
<text transform="translate(1098.64,1530.80) scale(0.9833,1)" font-family="'Liberation Sans', sans-serif" font-size="42.59" font-style="italic">T</text>
<text transform="translate(1121.79,1540.88) scale(1.2848,1)" font-family="'Liberation Sans', sans-serif" font-size="23.70" font-style="italic">f</text>
<text transform="translate(1133.29,1532.93) scale(0.8714,1)" font-family="'Liberation Sans', sans-serif" font-size="46.67" font-style="italic">,</text>
<text transform="translate(1167.53,1531.29) scale(1.0294,1)" font-family="'Liberation Sans', sans-serif" font-size="41.50">steady state</text>
<text transform="translate(1098.64,1599.20) scale(0.9512,1)" font-family="'Liberation Sans', sans-serif" font-size="44.03" font-style="italic">T</text>
<text transform="translate(1121.79,1610.28) scale(1.2774,1)" font-family="'Liberation Sans', sans-serif" font-size="23.84" font-style="italic">f</text>
<text transform="translate(1133.29,1602.28) scale(0.8637,1)" font-family="'Liberation Sans', sans-serif" font-size="47.08" font-style="italic">,</text>
<text transform="translate(1179.16,1599.40) scale(1.0767,1)" font-family="'Liberation Sans', sans-serif" font-size="39.73">transient</text>
<text transform="translate(1098.64,1668.60) scale(0.9833,1)" font-family="'Liberation Sans', sans-serif" font-size="42.59" font-style="italic">T</text>
<text transform="translate(1122.81,1677.80) scale(1.0515,1)" font-family="'Liberation Sans', sans-serif" font-size="28.12" font-style="italic">L</text>
<text transform="translate(925.78,2925.83) scale(0.8738,1)" font-family="'Liberation Serif', serif" font-size="86.37">(</text>
<text transform="translate(953.00,2925.68) scale(1.0201,1)" font-family="'Liberation Serif', serif" font-size="88.23" font-weight="bold">b</text>
<text transform="translate(1004.47,2925.83) scale(0.9396,1)" font-family="'Liberation Serif', serif" font-size="86.37">)</text>
</g>
</svg>
</body></html>
